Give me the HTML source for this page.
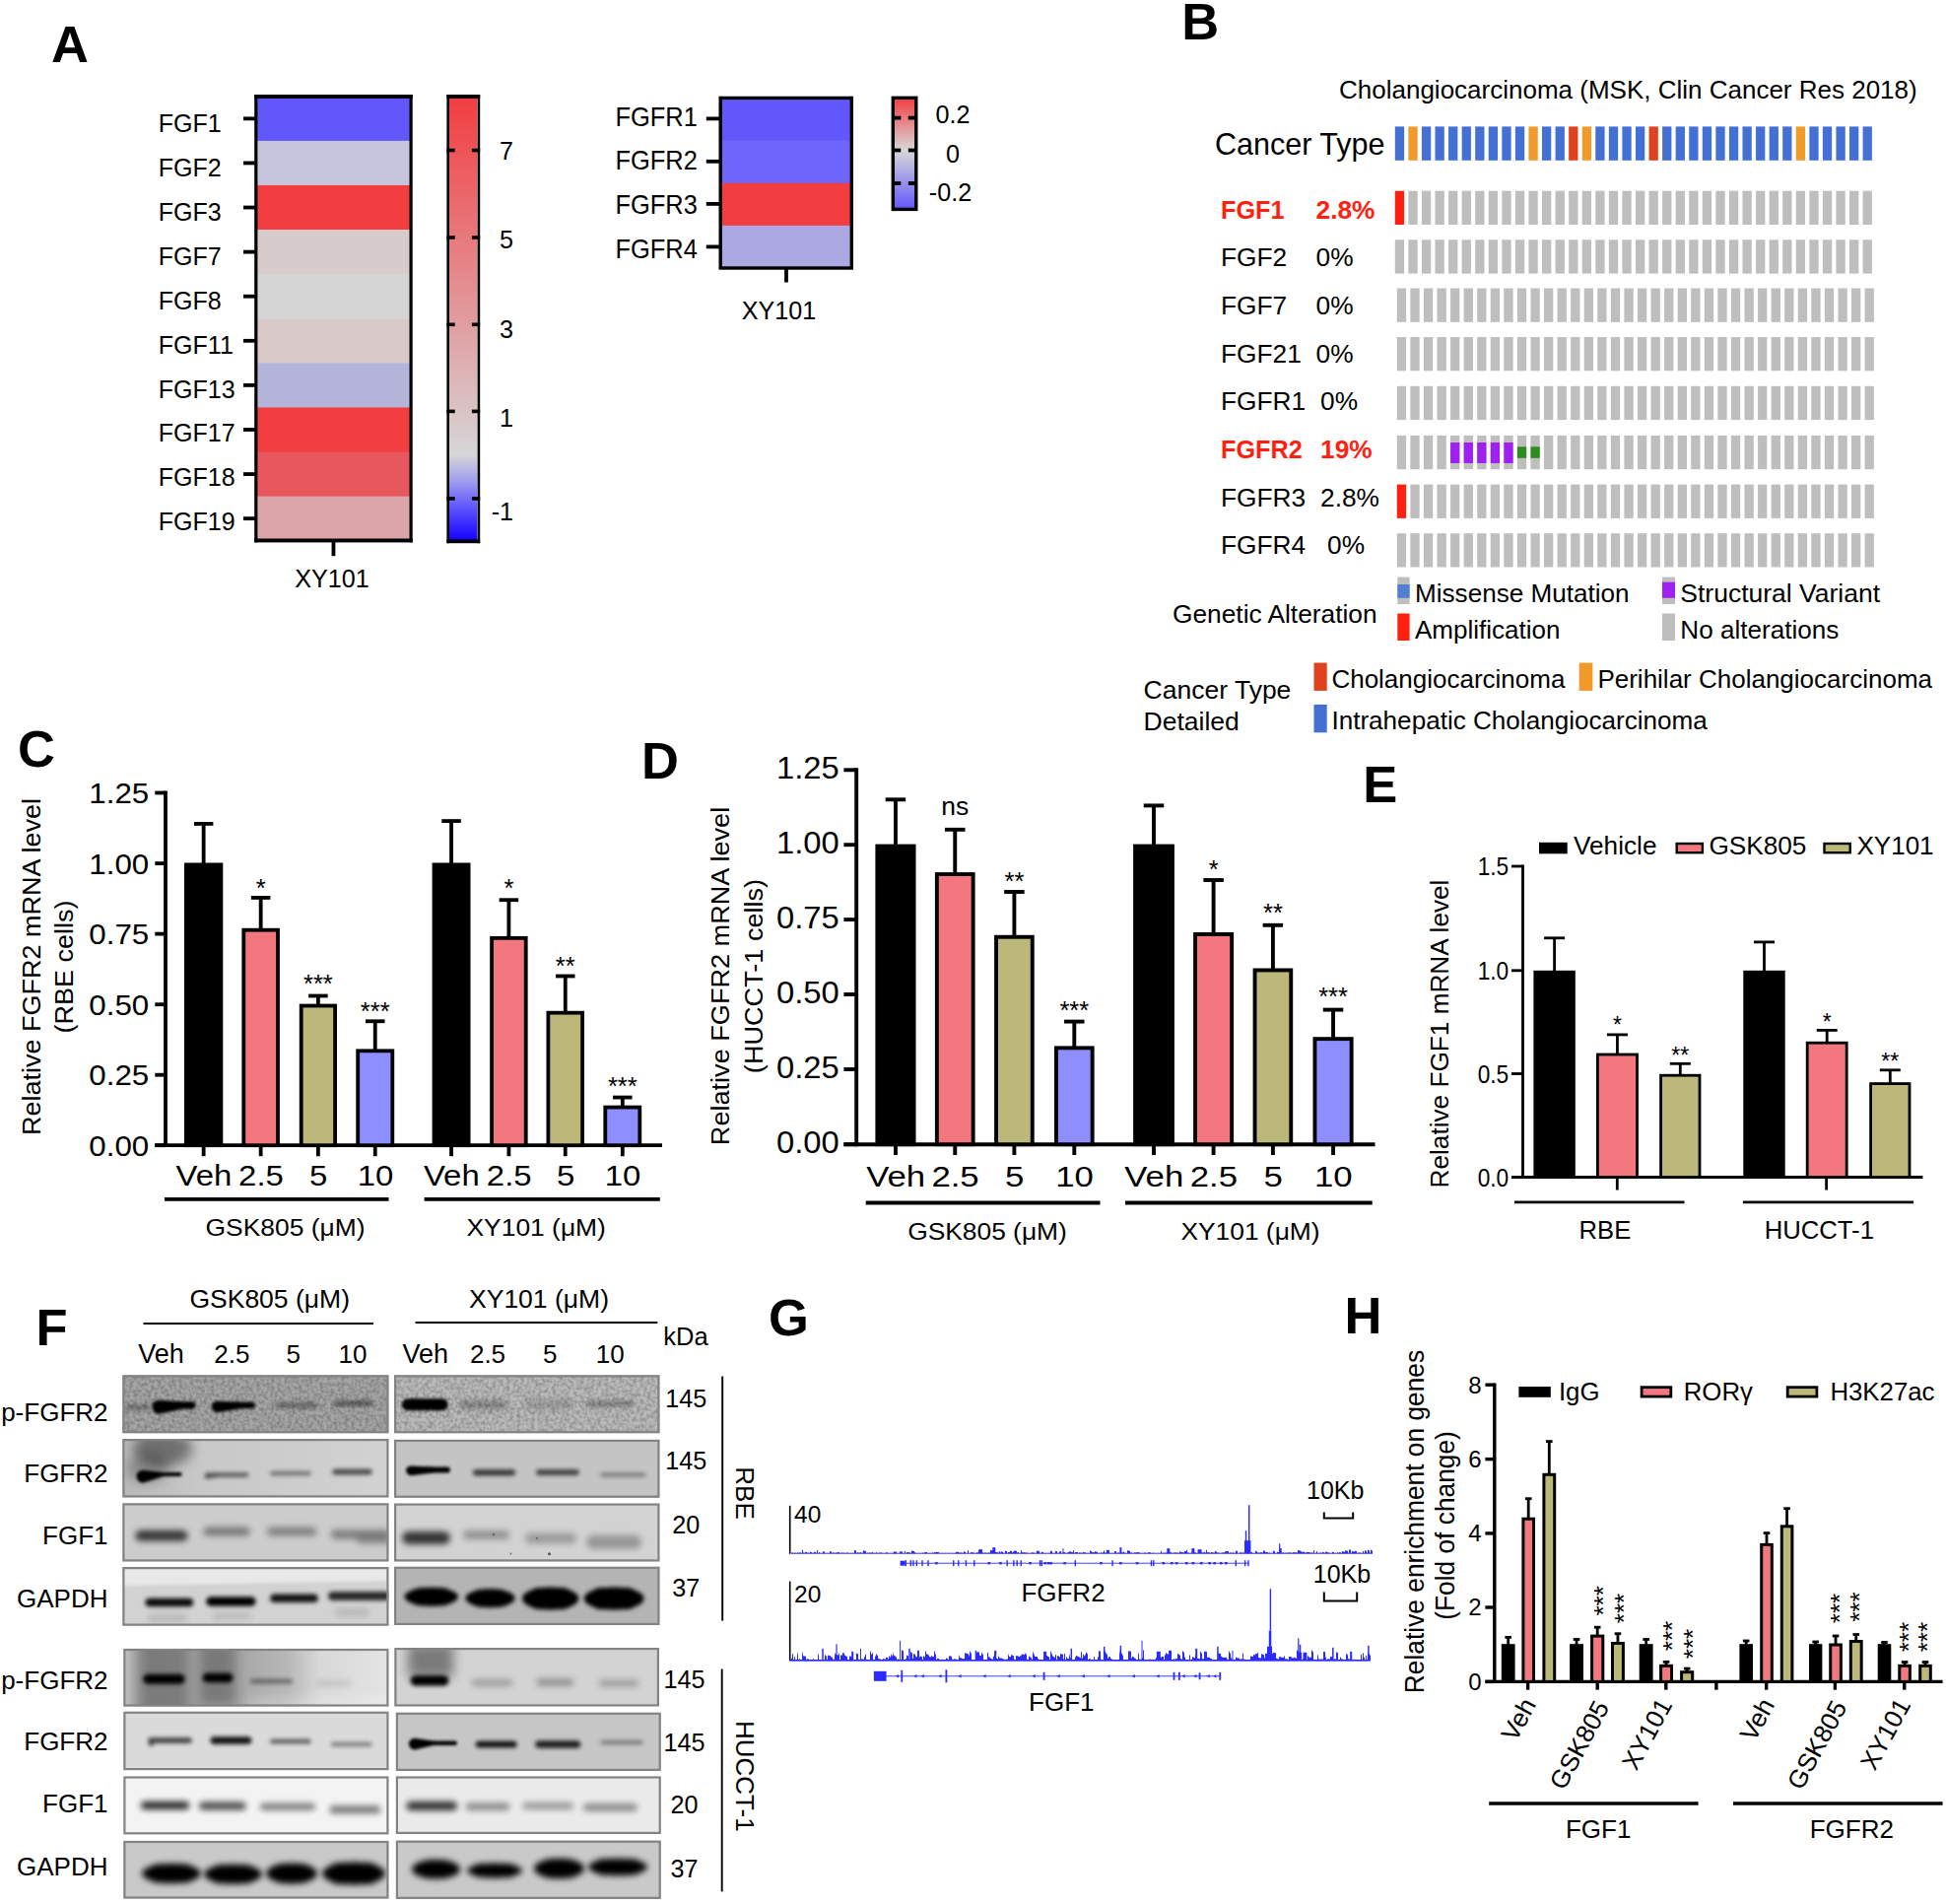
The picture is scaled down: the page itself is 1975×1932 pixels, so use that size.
<!DOCTYPE html>
<html><head><meta charset="utf-8"><title>Figure</title>
<style>html,body{margin:0;padding:0;background:#fff;}svg{display:block}text{font-family:'Liberation Sans', sans-serif}</style>
</head><body>
<svg width="1975" height="1932" viewBox="0 0 1975 1932">
<rect width="1975" height="1932" fill="#fff"/>
<g id="panelA">
<text x="52" y="63.3" font-size="52.5" font-weight="bold">A</text>
<rect x="259.9" y="97.8" width="157.1" height="45.59" fill="#6257FB"/>
<rect x="259.9" y="142.89" width="157.1" height="45.59" fill="#C5C4DC"/>
<rect x="259.9" y="187.98" width="157.1" height="45.59" fill="#F23D41"/>
<rect x="259.9" y="233.07" width="157.1" height="45.59" fill="#D8CBCC"/>
<rect x="259.9" y="278.16" width="157.1" height="45.59" fill="#D5D5D5"/>
<rect x="259.9" y="323.25" width="157.1" height="45.59" fill="#D9C9C9"/>
<rect x="259.9" y="368.34" width="157.1" height="45.59" fill="#B5B5DC"/>
<rect x="259.9" y="413.43" width="157.1" height="45.59" fill="#F23D41"/>
<rect x="259.9" y="458.52" width="157.1" height="45.59" fill="#E9575E"/>
<rect x="259.9" y="503.61" width="157.1" height="45.59" fill="#DBA5A9"/>
<rect x="258.2" y="96" width="160.5" height="3.9" fill="#000"/>
<rect x="258.2" y="546.5" width="160.5" height="3.9" fill="#000"/>
<rect x="258.2" y="96" width="3.2" height="454.4" fill="#000"/>
<rect x="415.5" y="96" width="3.2" height="454.4" fill="#000"/>
<line x1="247" y1="120.34" x2="259.9" y2="120.34" stroke="#000" stroke-width="3.8"/>
<text x="0" y="0" font-size="26.5" transform="translate(160.8 133.8) scale(0.945 1)">FGF1</text>
<line x1="247" y1="165.44" x2="259.9" y2="165.44" stroke="#000" stroke-width="3.8"/>
<text x="0" y="0" font-size="26.5" transform="translate(160.8 178.75) scale(0.945 1)">FGF2</text>
<line x1="247" y1="210.53" x2="259.9" y2="210.53" stroke="#000" stroke-width="3.8"/>
<text x="0" y="0" font-size="26.5" transform="translate(160.8 223.7) scale(0.945 1)">FGF3</text>
<line x1="247" y1="255.62" x2="259.9" y2="255.62" stroke="#000" stroke-width="3.8"/>
<text x="0" y="0" font-size="26.5" transform="translate(160.8 268.65) scale(0.945 1)">FGF7</text>
<line x1="247" y1="300.71" x2="259.9" y2="300.71" stroke="#000" stroke-width="3.8"/>
<text x="0" y="0" font-size="26.5" transform="translate(160.8 313.6) scale(0.945 1)">FGF8</text>
<line x1="247" y1="345.8" x2="259.9" y2="345.8" stroke="#000" stroke-width="3.8"/>
<text x="0" y="0" font-size="26.5" transform="translate(160.8 358.55) scale(0.945 1)">FGF11</text>
<line x1="247" y1="390.89" x2="259.9" y2="390.89" stroke="#000" stroke-width="3.8"/>
<text x="0" y="0" font-size="26.5" transform="translate(160.8 403.5) scale(0.945 1)">FGF13</text>
<line x1="247" y1="435.98" x2="259.9" y2="435.98" stroke="#000" stroke-width="3.8"/>
<text x="0" y="0" font-size="26.5" transform="translate(160.8 448.45) scale(0.945 1)">FGF17</text>
<line x1="247" y1="481.07" x2="259.9" y2="481.07" stroke="#000" stroke-width="3.8"/>
<text x="0" y="0" font-size="26.5" transform="translate(160.8 493.4) scale(0.945 1)">FGF18</text>
<line x1="247" y1="526.15" x2="259.9" y2="526.15" stroke="#000" stroke-width="3.8"/>
<text x="0" y="0" font-size="26.5" transform="translate(160.8 538.35) scale(0.945 1)">FGF19</text>
<line x1="338.45" y1="548.7" x2="338.45" y2="564.2" stroke="#000" stroke-width="3.8"/>
<text x="0" y="0" font-size="26.5" text-anchor="middle" transform="translate(336.95 596) scale(0.95 1)">XY101</text>
<defs><linearGradient id="cbA" x1="0" y1="0" x2="0" y2="1"><stop offset="0" stop-color="#F23D41"/><stop offset="0.807" stop-color="#D6D6D8"/><stop offset="0.87" stop-color="#9C98F0"/><stop offset="0.93" stop-color="#5A50FC"/><stop offset="1" stop-color="#1400FF"/></linearGradient><linearGradient id="cbA2" x1="0" y1="0" x2="0" y2="1"><stop offset="0" stop-color="#F23D41"/><stop offset="0.47" stop-color="#D8D8D8"/><stop offset="1" stop-color="#6257FB"/></linearGradient></defs>
<rect x="455.7" y="97.8" width="28.6" height="450.9" fill="url(#cbA)"/>
<rect x="453.4" y="96" width="33.8" height="3.9" fill="#000"/>
<rect x="453.4" y="547.3" width="33.8" height="3.9" fill="#000"/>
<rect x="453.4" y="96" width="2.6" height="455.2" fill="#000"/>
<rect x="484.6" y="96" width="2.6" height="455.2" fill="#000"/>
<line x1="453.4" y1="152.5" x2="461.7" y2="152.5" stroke="#000" stroke-width="3.6"/>
<line x1="478.9" y1="152.5" x2="487.2" y2="152.5" stroke="#000" stroke-width="3.6"/>
<text x="0" y="0" font-size="26.5" text-anchor="end" transform="translate(521 161.8) scale(0.95 1)">7</text>
<line x1="453.4" y1="241" x2="461.7" y2="241" stroke="#000" stroke-width="3.6"/>
<line x1="478.9" y1="241" x2="487.2" y2="241" stroke="#000" stroke-width="3.6"/>
<text x="0" y="0" font-size="26.5" text-anchor="end" transform="translate(521 252.3) scale(0.95 1)">5</text>
<line x1="453.4" y1="329.3" x2="461.7" y2="329.3" stroke="#000" stroke-width="3.6"/>
<line x1="478.9" y1="329.3" x2="487.2" y2="329.3" stroke="#000" stroke-width="3.6"/>
<text x="0" y="0" font-size="26.5" text-anchor="end" transform="translate(521 342.8) scale(0.95 1)">3</text>
<line x1="453.4" y1="417.4" x2="461.7" y2="417.4" stroke="#000" stroke-width="3.6"/>
<line x1="478.9" y1="417.4" x2="487.2" y2="417.4" stroke="#000" stroke-width="3.6"/>
<text x="0" y="0" font-size="26.5" text-anchor="end" transform="translate(521 433.4) scale(0.95 1)">1</text>
<line x1="453.4" y1="505.9" x2="461.7" y2="505.9" stroke="#000" stroke-width="3.6"/>
<line x1="478.9" y1="505.9" x2="487.2" y2="505.9" stroke="#000" stroke-width="3.6"/>
<text x="0" y="0" font-size="26.5" text-anchor="end" transform="translate(521 527.6) scale(0.95 1)">-1</text>
<rect x="731.2" y="99.4" width="133.1" height="43.65" fill="#6257FB"/>
<rect x="731.2" y="142.55" width="133.1" height="43.65" fill="#6E66FA"/>
<rect x="731.2" y="185.7" width="133.1" height="43.65" fill="#F23D41"/>
<rect x="731.2" y="228.85" width="133.1" height="43.65" fill="#ABA8E2"/>
<rect x="731.2" y="99.4" width="133.1" height="172.6" fill="none" stroke="#000" stroke-width="3.4"/>
<line x1="716.8" y1="120.4" x2="731.2" y2="120.4" stroke="#000" stroke-width="3.8"/>
<text x="0" y="0" font-size="26.8" transform="translate(624.4 127.5) scale(0.95 1)">FGFR1</text>
<line x1="716.8" y1="163.8" x2="731.2" y2="163.8" stroke="#000" stroke-width="3.8"/>
<text x="0" y="0" font-size="26.8" transform="translate(624.4 172.1) scale(0.95 1)">FGFR2</text>
<line x1="716.8" y1="206.9" x2="731.2" y2="206.9" stroke="#000" stroke-width="3.8"/>
<text x="0" y="0" font-size="26.8" transform="translate(624.4 217) scale(0.95 1)">FGFR3</text>
<line x1="716.8" y1="250.4" x2="731.2" y2="250.4" stroke="#000" stroke-width="3.8"/>
<text x="0" y="0" font-size="26.8" transform="translate(624.4 262) scale(0.95 1)">FGFR4</text>
<line x1="798" y1="272" x2="798" y2="286.5" stroke="#000" stroke-width="3.8"/>
<text x="0" y="0" font-size="26.5" text-anchor="middle" transform="translate(790.5 324) scale(0.95 1)">XY101</text>
<rect x="906.3" y="99.3" width="23.5" height="113.1" fill="url(#cbA2)" stroke="#000" stroke-width="3.4"/>
<line x1="906.3" y1="119.6" x2="914.3" y2="119.6" stroke="#000" stroke-width="3.8"/>
<line x1="921.8" y1="119.6" x2="929.8" y2="119.6" stroke="#000" stroke-width="3.8"/>
<line x1="906.3" y1="152.5" x2="914.3" y2="152.5" stroke="#000" stroke-width="3.8"/>
<line x1="921.8" y1="152.5" x2="929.8" y2="152.5" stroke="#000" stroke-width="3.8"/>
<line x1="906.3" y1="186" x2="914.3" y2="186" stroke="#000" stroke-width="3.8"/>
<line x1="921.8" y1="186" x2="929.8" y2="186" stroke="#000" stroke-width="3.8"/>
<text x="0" y="0" font-size="26.5" text-anchor="middle" transform="translate(967 125) scale(0.95 1)">0.2</text>
<text x="0" y="0" font-size="26.5" text-anchor="middle" transform="translate(967 164.6) scale(0.95 1)">0</text>
<text x="0" y="0" font-size="26.5" text-anchor="middle" transform="translate(964.5 204.3) scale(0.95 1)">-0.2</text>
</g>
<g id="panelB">
<text x="1199.3" y="40.3" font-size="52.5" font-weight="bold">B</text>
<text x="1359" y="99.8" font-size="26">Cholangiocarcinoma (MSK, Clin Cancer Res 2018)</text>
<text x="1233" y="157.4" font-size="30.5">Cancer Type</text>
<rect x="1415.8" y="128.4" width="9.3" height="34.4" fill="#4470D6"/>
<rect x="1429.37" y="128.4" width="9.3" height="34.4" fill="#F09A2C"/>
<rect x="1442.93" y="128.4" width="9.3" height="34.4" fill="#4470D6"/>
<rect x="1456.49" y="128.4" width="9.3" height="34.4" fill="#4470D6"/>
<rect x="1470.06" y="128.4" width="9.3" height="34.4" fill="#4470D6"/>
<rect x="1483.62" y="128.4" width="9.3" height="34.4" fill="#4470D6"/>
<rect x="1497.19" y="128.4" width="9.3" height="34.4" fill="#4470D6"/>
<rect x="1510.75" y="128.4" width="9.3" height="34.4" fill="#4470D6"/>
<rect x="1524.32" y="128.4" width="9.3" height="34.4" fill="#4470D6"/>
<rect x="1537.88" y="128.4" width="9.3" height="34.4" fill="#4470D6"/>
<rect x="1551.45" y="128.4" width="9.3" height="34.4" fill="#F09A2C"/>
<rect x="1565.01" y="128.4" width="9.3" height="34.4" fill="#4470D6"/>
<rect x="1578.58" y="128.4" width="9.3" height="34.4" fill="#4470D6"/>
<rect x="1592.14" y="128.4" width="9.3" height="34.4" fill="#E0421E"/>
<rect x="1605.71" y="128.4" width="9.3" height="34.4" fill="#F09A2C"/>
<rect x="1619.27" y="128.4" width="9.3" height="34.4" fill="#4470D6"/>
<rect x="1632.84" y="128.4" width="9.3" height="34.4" fill="#4470D6"/>
<rect x="1646.4" y="128.4" width="9.3" height="34.4" fill="#4470D6"/>
<rect x="1659.97" y="128.4" width="9.3" height="34.4" fill="#4470D6"/>
<rect x="1673.53" y="128.4" width="9.3" height="34.4" fill="#E0421E"/>
<rect x="1687.1" y="128.4" width="9.3" height="34.4" fill="#4470D6"/>
<rect x="1700.66" y="128.4" width="9.3" height="34.4" fill="#4470D6"/>
<rect x="1714.23" y="128.4" width="9.3" height="34.4" fill="#4470D6"/>
<rect x="1727.8" y="128.4" width="9.3" height="34.4" fill="#4470D6"/>
<rect x="1741.36" y="128.4" width="9.3" height="34.4" fill="#4470D6"/>
<rect x="1754.92" y="128.4" width="9.3" height="34.4" fill="#4470D6"/>
<rect x="1768.49" y="128.4" width="9.3" height="34.4" fill="#4470D6"/>
<rect x="1782.05" y="128.4" width="9.3" height="34.4" fill="#4470D6"/>
<rect x="1795.62" y="128.4" width="9.3" height="34.4" fill="#4470D6"/>
<rect x="1809.18" y="128.4" width="9.3" height="34.4" fill="#4470D6"/>
<rect x="1822.75" y="128.4" width="9.3" height="34.4" fill="#F09A2C"/>
<rect x="1836.32" y="128.4" width="9.3" height="34.4" fill="#4470D6"/>
<rect x="1849.88" y="128.4" width="9.3" height="34.4" fill="#4470D6"/>
<rect x="1863.44" y="128.4" width="9.3" height="34.4" fill="#4470D6"/>
<rect x="1877.01" y="128.4" width="9.3" height="34.4" fill="#4470D6"/>
<rect x="1890.57" y="128.4" width="9.3" height="34.4" fill="#4470D6"/>
<rect x="1415.8" y="193.7" width="9.3" height="34.3" fill="#FF2010"/>
<rect x="1429.37" y="193.7" width="9.3" height="34.3" fill="#BEBEBE"/>
<rect x="1442.93" y="193.7" width="9.3" height="34.3" fill="#BEBEBE"/>
<rect x="1456.49" y="193.7" width="9.3" height="34.3" fill="#BEBEBE"/>
<rect x="1470.06" y="193.7" width="9.3" height="34.3" fill="#BEBEBE"/>
<rect x="1483.62" y="193.7" width="9.3" height="34.3" fill="#BEBEBE"/>
<rect x="1497.19" y="193.7" width="9.3" height="34.3" fill="#BEBEBE"/>
<rect x="1510.75" y="193.7" width="9.3" height="34.3" fill="#BEBEBE"/>
<rect x="1524.32" y="193.7" width="9.3" height="34.3" fill="#BEBEBE"/>
<rect x="1537.88" y="193.7" width="9.3" height="34.3" fill="#BEBEBE"/>
<rect x="1551.45" y="193.7" width="9.3" height="34.3" fill="#BEBEBE"/>
<rect x="1565.01" y="193.7" width="9.3" height="34.3" fill="#BEBEBE"/>
<rect x="1578.58" y="193.7" width="9.3" height="34.3" fill="#BEBEBE"/>
<rect x="1592.14" y="193.7" width="9.3" height="34.3" fill="#BEBEBE"/>
<rect x="1605.71" y="193.7" width="9.3" height="34.3" fill="#BEBEBE"/>
<rect x="1619.27" y="193.7" width="9.3" height="34.3" fill="#BEBEBE"/>
<rect x="1632.84" y="193.7" width="9.3" height="34.3" fill="#BEBEBE"/>
<rect x="1646.4" y="193.7" width="9.3" height="34.3" fill="#BEBEBE"/>
<rect x="1659.97" y="193.7" width="9.3" height="34.3" fill="#BEBEBE"/>
<rect x="1673.53" y="193.7" width="9.3" height="34.3" fill="#BEBEBE"/>
<rect x="1687.1" y="193.7" width="9.3" height="34.3" fill="#BEBEBE"/>
<rect x="1700.66" y="193.7" width="9.3" height="34.3" fill="#BEBEBE"/>
<rect x="1714.23" y="193.7" width="9.3" height="34.3" fill="#BEBEBE"/>
<rect x="1727.8" y="193.7" width="9.3" height="34.3" fill="#BEBEBE"/>
<rect x="1741.36" y="193.7" width="9.3" height="34.3" fill="#BEBEBE"/>
<rect x="1754.92" y="193.7" width="9.3" height="34.3" fill="#BEBEBE"/>
<rect x="1768.49" y="193.7" width="9.3" height="34.3" fill="#BEBEBE"/>
<rect x="1782.05" y="193.7" width="9.3" height="34.3" fill="#BEBEBE"/>
<rect x="1795.62" y="193.7" width="9.3" height="34.3" fill="#BEBEBE"/>
<rect x="1809.18" y="193.7" width="9.3" height="34.3" fill="#BEBEBE"/>
<rect x="1822.75" y="193.7" width="9.3" height="34.3" fill="#BEBEBE"/>
<rect x="1836.32" y="193.7" width="9.3" height="34.3" fill="#BEBEBE"/>
<rect x="1849.88" y="193.7" width="9.3" height="34.3" fill="#BEBEBE"/>
<rect x="1863.44" y="193.7" width="9.3" height="34.3" fill="#BEBEBE"/>
<rect x="1877.01" y="193.7" width="9.3" height="34.3" fill="#BEBEBE"/>
<rect x="1890.57" y="193.7" width="9.3" height="34.3" fill="#BEBEBE"/>
<text x="0" y="0" font-size="26.3" font-weight="bold" fill="#FF2010" transform="translate(1239 221.6) scale(0.96 1)">FGF1</text>
<text x="1335.5" y="221.6" font-size="26.3" font-weight="bold" fill="#FF2010">2.8%</text>
<rect x="1415.8" y="243.3" width="9.3" height="34.3" fill="#BEBEBE"/>
<rect x="1429.37" y="243.3" width="9.3" height="34.3" fill="#BEBEBE"/>
<rect x="1442.93" y="243.3" width="9.3" height="34.3" fill="#BEBEBE"/>
<rect x="1456.49" y="243.3" width="9.3" height="34.3" fill="#BEBEBE"/>
<rect x="1470.06" y="243.3" width="9.3" height="34.3" fill="#BEBEBE"/>
<rect x="1483.62" y="243.3" width="9.3" height="34.3" fill="#BEBEBE"/>
<rect x="1497.19" y="243.3" width="9.3" height="34.3" fill="#BEBEBE"/>
<rect x="1510.75" y="243.3" width="9.3" height="34.3" fill="#BEBEBE"/>
<rect x="1524.32" y="243.3" width="9.3" height="34.3" fill="#BEBEBE"/>
<rect x="1537.88" y="243.3" width="9.3" height="34.3" fill="#BEBEBE"/>
<rect x="1551.45" y="243.3" width="9.3" height="34.3" fill="#BEBEBE"/>
<rect x="1565.01" y="243.3" width="9.3" height="34.3" fill="#BEBEBE"/>
<rect x="1578.58" y="243.3" width="9.3" height="34.3" fill="#BEBEBE"/>
<rect x="1592.14" y="243.3" width="9.3" height="34.3" fill="#BEBEBE"/>
<rect x="1605.71" y="243.3" width="9.3" height="34.3" fill="#BEBEBE"/>
<rect x="1619.27" y="243.3" width="9.3" height="34.3" fill="#BEBEBE"/>
<rect x="1632.84" y="243.3" width="9.3" height="34.3" fill="#BEBEBE"/>
<rect x="1646.4" y="243.3" width="9.3" height="34.3" fill="#BEBEBE"/>
<rect x="1659.97" y="243.3" width="9.3" height="34.3" fill="#BEBEBE"/>
<rect x="1673.53" y="243.3" width="9.3" height="34.3" fill="#BEBEBE"/>
<rect x="1687.1" y="243.3" width="9.3" height="34.3" fill="#BEBEBE"/>
<rect x="1700.66" y="243.3" width="9.3" height="34.3" fill="#BEBEBE"/>
<rect x="1714.23" y="243.3" width="9.3" height="34.3" fill="#BEBEBE"/>
<rect x="1727.8" y="243.3" width="9.3" height="34.3" fill="#BEBEBE"/>
<rect x="1741.36" y="243.3" width="9.3" height="34.3" fill="#BEBEBE"/>
<rect x="1754.92" y="243.3" width="9.3" height="34.3" fill="#BEBEBE"/>
<rect x="1768.49" y="243.3" width="9.3" height="34.3" fill="#BEBEBE"/>
<rect x="1782.05" y="243.3" width="9.3" height="34.3" fill="#BEBEBE"/>
<rect x="1795.62" y="243.3" width="9.3" height="34.3" fill="#BEBEBE"/>
<rect x="1809.18" y="243.3" width="9.3" height="34.3" fill="#BEBEBE"/>
<rect x="1822.75" y="243.3" width="9.3" height="34.3" fill="#BEBEBE"/>
<rect x="1836.32" y="243.3" width="9.3" height="34.3" fill="#BEBEBE"/>
<rect x="1849.88" y="243.3" width="9.3" height="34.3" fill="#BEBEBE"/>
<rect x="1863.44" y="243.3" width="9.3" height="34.3" fill="#BEBEBE"/>
<rect x="1877.01" y="243.3" width="9.3" height="34.3" fill="#BEBEBE"/>
<rect x="1890.57" y="243.3" width="9.3" height="34.3" fill="#BEBEBE"/>
<text x="1239" y="270.25" font-size="26.3">FGF2</text>
<text x="1335.5" y="270.25" font-size="26.3">0%</text>
<rect x="1417.8" y="292.5" width="9.3" height="34.3" fill="#BEBEBE"/>
<rect x="1431.37" y="292.5" width="9.3" height="34.3" fill="#BEBEBE"/>
<rect x="1444.93" y="292.5" width="9.3" height="34.3" fill="#BEBEBE"/>
<rect x="1458.49" y="292.5" width="9.3" height="34.3" fill="#BEBEBE"/>
<rect x="1472.06" y="292.5" width="9.3" height="34.3" fill="#BEBEBE"/>
<rect x="1485.62" y="292.5" width="9.3" height="34.3" fill="#BEBEBE"/>
<rect x="1499.19" y="292.5" width="9.3" height="34.3" fill="#BEBEBE"/>
<rect x="1512.75" y="292.5" width="9.3" height="34.3" fill="#BEBEBE"/>
<rect x="1526.32" y="292.5" width="9.3" height="34.3" fill="#BEBEBE"/>
<rect x="1539.88" y="292.5" width="9.3" height="34.3" fill="#BEBEBE"/>
<rect x="1553.45" y="292.5" width="9.3" height="34.3" fill="#BEBEBE"/>
<rect x="1567.01" y="292.5" width="9.3" height="34.3" fill="#BEBEBE"/>
<rect x="1580.58" y="292.5" width="9.3" height="34.3" fill="#BEBEBE"/>
<rect x="1594.14" y="292.5" width="9.3" height="34.3" fill="#BEBEBE"/>
<rect x="1607.71" y="292.5" width="9.3" height="34.3" fill="#BEBEBE"/>
<rect x="1621.27" y="292.5" width="9.3" height="34.3" fill="#BEBEBE"/>
<rect x="1634.84" y="292.5" width="9.3" height="34.3" fill="#BEBEBE"/>
<rect x="1648.4" y="292.5" width="9.3" height="34.3" fill="#BEBEBE"/>
<rect x="1661.97" y="292.5" width="9.3" height="34.3" fill="#BEBEBE"/>
<rect x="1675.53" y="292.5" width="9.3" height="34.3" fill="#BEBEBE"/>
<rect x="1689.1" y="292.5" width="9.3" height="34.3" fill="#BEBEBE"/>
<rect x="1702.66" y="292.5" width="9.3" height="34.3" fill="#BEBEBE"/>
<rect x="1716.23" y="292.5" width="9.3" height="34.3" fill="#BEBEBE"/>
<rect x="1729.8" y="292.5" width="9.3" height="34.3" fill="#BEBEBE"/>
<rect x="1743.36" y="292.5" width="9.3" height="34.3" fill="#BEBEBE"/>
<rect x="1756.92" y="292.5" width="9.3" height="34.3" fill="#BEBEBE"/>
<rect x="1770.49" y="292.5" width="9.3" height="34.3" fill="#BEBEBE"/>
<rect x="1784.05" y="292.5" width="9.3" height="34.3" fill="#BEBEBE"/>
<rect x="1797.62" y="292.5" width="9.3" height="34.3" fill="#BEBEBE"/>
<rect x="1811.18" y="292.5" width="9.3" height="34.3" fill="#BEBEBE"/>
<rect x="1824.75" y="292.5" width="9.3" height="34.3" fill="#BEBEBE"/>
<rect x="1838.32" y="292.5" width="9.3" height="34.3" fill="#BEBEBE"/>
<rect x="1851.88" y="292.5" width="9.3" height="34.3" fill="#BEBEBE"/>
<rect x="1865.44" y="292.5" width="9.3" height="34.3" fill="#BEBEBE"/>
<rect x="1879.01" y="292.5" width="9.3" height="34.3" fill="#BEBEBE"/>
<rect x="1892.57" y="292.5" width="9.3" height="34.3" fill="#BEBEBE"/>
<text x="1239" y="318.9" font-size="26.3">FGF7</text>
<text x="1335.5" y="318.9" font-size="26.3">0%</text>
<rect x="1417.8" y="342" width="9.3" height="34.3" fill="#BEBEBE"/>
<rect x="1431.37" y="342" width="9.3" height="34.3" fill="#BEBEBE"/>
<rect x="1444.93" y="342" width="9.3" height="34.3" fill="#BEBEBE"/>
<rect x="1458.49" y="342" width="9.3" height="34.3" fill="#BEBEBE"/>
<rect x="1472.06" y="342" width="9.3" height="34.3" fill="#BEBEBE"/>
<rect x="1485.62" y="342" width="9.3" height="34.3" fill="#BEBEBE"/>
<rect x="1499.19" y="342" width="9.3" height="34.3" fill="#BEBEBE"/>
<rect x="1512.75" y="342" width="9.3" height="34.3" fill="#BEBEBE"/>
<rect x="1526.32" y="342" width="9.3" height="34.3" fill="#BEBEBE"/>
<rect x="1539.88" y="342" width="9.3" height="34.3" fill="#BEBEBE"/>
<rect x="1553.45" y="342" width="9.3" height="34.3" fill="#BEBEBE"/>
<rect x="1567.01" y="342" width="9.3" height="34.3" fill="#BEBEBE"/>
<rect x="1580.58" y="342" width="9.3" height="34.3" fill="#BEBEBE"/>
<rect x="1594.14" y="342" width="9.3" height="34.3" fill="#BEBEBE"/>
<rect x="1607.71" y="342" width="9.3" height="34.3" fill="#BEBEBE"/>
<rect x="1621.27" y="342" width="9.3" height="34.3" fill="#BEBEBE"/>
<rect x="1634.84" y="342" width="9.3" height="34.3" fill="#BEBEBE"/>
<rect x="1648.4" y="342" width="9.3" height="34.3" fill="#BEBEBE"/>
<rect x="1661.97" y="342" width="9.3" height="34.3" fill="#BEBEBE"/>
<rect x="1675.53" y="342" width="9.3" height="34.3" fill="#BEBEBE"/>
<rect x="1689.1" y="342" width="9.3" height="34.3" fill="#BEBEBE"/>
<rect x="1702.66" y="342" width="9.3" height="34.3" fill="#BEBEBE"/>
<rect x="1716.23" y="342" width="9.3" height="34.3" fill="#BEBEBE"/>
<rect x="1729.8" y="342" width="9.3" height="34.3" fill="#BEBEBE"/>
<rect x="1743.36" y="342" width="9.3" height="34.3" fill="#BEBEBE"/>
<rect x="1756.92" y="342" width="9.3" height="34.3" fill="#BEBEBE"/>
<rect x="1770.49" y="342" width="9.3" height="34.3" fill="#BEBEBE"/>
<rect x="1784.05" y="342" width="9.3" height="34.3" fill="#BEBEBE"/>
<rect x="1797.62" y="342" width="9.3" height="34.3" fill="#BEBEBE"/>
<rect x="1811.18" y="342" width="9.3" height="34.3" fill="#BEBEBE"/>
<rect x="1824.75" y="342" width="9.3" height="34.3" fill="#BEBEBE"/>
<rect x="1838.32" y="342" width="9.3" height="34.3" fill="#BEBEBE"/>
<rect x="1851.88" y="342" width="9.3" height="34.3" fill="#BEBEBE"/>
<rect x="1865.44" y="342" width="9.3" height="34.3" fill="#BEBEBE"/>
<rect x="1879.01" y="342" width="9.3" height="34.3" fill="#BEBEBE"/>
<rect x="1892.57" y="342" width="9.3" height="34.3" fill="#BEBEBE"/>
<text x="1239" y="367.55" font-size="26.3">FGF21</text>
<text x="1335.5" y="367.55" font-size="26.3">0%</text>
<rect x="1417.8" y="391.8" width="9.3" height="34.3" fill="#BEBEBE"/>
<rect x="1431.37" y="391.8" width="9.3" height="34.3" fill="#BEBEBE"/>
<rect x="1444.93" y="391.8" width="9.3" height="34.3" fill="#BEBEBE"/>
<rect x="1458.49" y="391.8" width="9.3" height="34.3" fill="#BEBEBE"/>
<rect x="1472.06" y="391.8" width="9.3" height="34.3" fill="#BEBEBE"/>
<rect x="1485.62" y="391.8" width="9.3" height="34.3" fill="#BEBEBE"/>
<rect x="1499.19" y="391.8" width="9.3" height="34.3" fill="#BEBEBE"/>
<rect x="1512.75" y="391.8" width="9.3" height="34.3" fill="#BEBEBE"/>
<rect x="1526.32" y="391.8" width="9.3" height="34.3" fill="#BEBEBE"/>
<rect x="1539.88" y="391.8" width="9.3" height="34.3" fill="#BEBEBE"/>
<rect x="1553.45" y="391.8" width="9.3" height="34.3" fill="#BEBEBE"/>
<rect x="1567.01" y="391.8" width="9.3" height="34.3" fill="#BEBEBE"/>
<rect x="1580.58" y="391.8" width="9.3" height="34.3" fill="#BEBEBE"/>
<rect x="1594.14" y="391.8" width="9.3" height="34.3" fill="#BEBEBE"/>
<rect x="1607.71" y="391.8" width="9.3" height="34.3" fill="#BEBEBE"/>
<rect x="1621.27" y="391.8" width="9.3" height="34.3" fill="#BEBEBE"/>
<rect x="1634.84" y="391.8" width="9.3" height="34.3" fill="#BEBEBE"/>
<rect x="1648.4" y="391.8" width="9.3" height="34.3" fill="#BEBEBE"/>
<rect x="1661.97" y="391.8" width="9.3" height="34.3" fill="#BEBEBE"/>
<rect x="1675.53" y="391.8" width="9.3" height="34.3" fill="#BEBEBE"/>
<rect x="1689.1" y="391.8" width="9.3" height="34.3" fill="#BEBEBE"/>
<rect x="1702.66" y="391.8" width="9.3" height="34.3" fill="#BEBEBE"/>
<rect x="1716.23" y="391.8" width="9.3" height="34.3" fill="#BEBEBE"/>
<rect x="1729.8" y="391.8" width="9.3" height="34.3" fill="#BEBEBE"/>
<rect x="1743.36" y="391.8" width="9.3" height="34.3" fill="#BEBEBE"/>
<rect x="1756.92" y="391.8" width="9.3" height="34.3" fill="#BEBEBE"/>
<rect x="1770.49" y="391.8" width="9.3" height="34.3" fill="#BEBEBE"/>
<rect x="1784.05" y="391.8" width="9.3" height="34.3" fill="#BEBEBE"/>
<rect x="1797.62" y="391.8" width="9.3" height="34.3" fill="#BEBEBE"/>
<rect x="1811.18" y="391.8" width="9.3" height="34.3" fill="#BEBEBE"/>
<rect x="1824.75" y="391.8" width="9.3" height="34.3" fill="#BEBEBE"/>
<rect x="1838.32" y="391.8" width="9.3" height="34.3" fill="#BEBEBE"/>
<rect x="1851.88" y="391.8" width="9.3" height="34.3" fill="#BEBEBE"/>
<rect x="1865.44" y="391.8" width="9.3" height="34.3" fill="#BEBEBE"/>
<rect x="1879.01" y="391.8" width="9.3" height="34.3" fill="#BEBEBE"/>
<rect x="1892.57" y="391.8" width="9.3" height="34.3" fill="#BEBEBE"/>
<text x="1239" y="416.2" font-size="26.3">FGFR1</text>
<text x="1340" y="416.2" font-size="26.3">0%</text>
<rect x="1417.8" y="441.9" width="9.3" height="34.3" fill="#BEBEBE"/>
<rect x="1431.37" y="441.9" width="9.3" height="34.3" fill="#BEBEBE"/>
<rect x="1444.93" y="441.9" width="9.3" height="34.3" fill="#BEBEBE"/>
<rect x="1458.49" y="441.9" width="9.3" height="34.3" fill="#BEBEBE"/>
<rect x="1472.06" y="441.9" width="9.3" height="34.3" fill="#BEBEBE"/>
<rect x="1485.62" y="441.9" width="9.3" height="34.3" fill="#BEBEBE"/>
<rect x="1499.19" y="441.9" width="9.3" height="34.3" fill="#BEBEBE"/>
<rect x="1512.75" y="441.9" width="9.3" height="34.3" fill="#BEBEBE"/>
<rect x="1526.32" y="441.9" width="9.3" height="34.3" fill="#BEBEBE"/>
<rect x="1539.88" y="441.9" width="9.3" height="34.3" fill="#BEBEBE"/>
<rect x="1553.45" y="441.9" width="9.3" height="34.3" fill="#BEBEBE"/>
<rect x="1567.01" y="441.9" width="9.3" height="34.3" fill="#BEBEBE"/>
<rect x="1580.58" y="441.9" width="9.3" height="34.3" fill="#BEBEBE"/>
<rect x="1594.14" y="441.9" width="9.3" height="34.3" fill="#BEBEBE"/>
<rect x="1607.71" y="441.9" width="9.3" height="34.3" fill="#BEBEBE"/>
<rect x="1621.27" y="441.9" width="9.3" height="34.3" fill="#BEBEBE"/>
<rect x="1634.84" y="441.9" width="9.3" height="34.3" fill="#BEBEBE"/>
<rect x="1648.4" y="441.9" width="9.3" height="34.3" fill="#BEBEBE"/>
<rect x="1661.97" y="441.9" width="9.3" height="34.3" fill="#BEBEBE"/>
<rect x="1675.53" y="441.9" width="9.3" height="34.3" fill="#BEBEBE"/>
<rect x="1689.1" y="441.9" width="9.3" height="34.3" fill="#BEBEBE"/>
<rect x="1702.66" y="441.9" width="9.3" height="34.3" fill="#BEBEBE"/>
<rect x="1716.23" y="441.9" width="9.3" height="34.3" fill="#BEBEBE"/>
<rect x="1729.8" y="441.9" width="9.3" height="34.3" fill="#BEBEBE"/>
<rect x="1743.36" y="441.9" width="9.3" height="34.3" fill="#BEBEBE"/>
<rect x="1756.92" y="441.9" width="9.3" height="34.3" fill="#BEBEBE"/>
<rect x="1770.49" y="441.9" width="9.3" height="34.3" fill="#BEBEBE"/>
<rect x="1784.05" y="441.9" width="9.3" height="34.3" fill="#BEBEBE"/>
<rect x="1797.62" y="441.9" width="9.3" height="34.3" fill="#BEBEBE"/>
<rect x="1811.18" y="441.9" width="9.3" height="34.3" fill="#BEBEBE"/>
<rect x="1824.75" y="441.9" width="9.3" height="34.3" fill="#BEBEBE"/>
<rect x="1838.32" y="441.9" width="9.3" height="34.3" fill="#BEBEBE"/>
<rect x="1851.88" y="441.9" width="9.3" height="34.3" fill="#BEBEBE"/>
<rect x="1865.44" y="441.9" width="9.3" height="34.3" fill="#BEBEBE"/>
<rect x="1879.01" y="441.9" width="9.3" height="34.3" fill="#BEBEBE"/>
<rect x="1892.57" y="441.9" width="9.3" height="34.3" fill="#BEBEBE"/>
<rect x="1472.06" y="449" width="9.3" height="21" fill="#A020F0"/>
<rect x="1485.62" y="449" width="9.3" height="21" fill="#A020F0"/>
<rect x="1499.19" y="449" width="9.3" height="21" fill="#A020F0"/>
<rect x="1512.75" y="449" width="9.3" height="21" fill="#A020F0"/>
<rect x="1526.32" y="449" width="9.3" height="21" fill="#A020F0"/>
<rect x="1539.88" y="453.3" width="9.3" height="11.5" fill="#2E8B1E"/>
<rect x="1553.45" y="453.3" width="9.3" height="11.5" fill="#2E8B1E"/>
<text x="0" y="0" font-size="26.3" font-weight="bold" fill="#FF2010" transform="translate(1239 464.85) scale(0.96 1)">FGFR2</text>
<text x="1340" y="464.85" font-size="26.3" font-weight="bold" fill="#FF2010">19%</text>
<rect x="1417.8" y="491.6" width="9.3" height="34.3" fill="#FF2010"/>
<rect x="1431.37" y="491.6" width="9.3" height="34.3" fill="#BEBEBE"/>
<rect x="1444.93" y="491.6" width="9.3" height="34.3" fill="#BEBEBE"/>
<rect x="1458.49" y="491.6" width="9.3" height="34.3" fill="#BEBEBE"/>
<rect x="1472.06" y="491.6" width="9.3" height="34.3" fill="#BEBEBE"/>
<rect x="1485.62" y="491.6" width="9.3" height="34.3" fill="#BEBEBE"/>
<rect x="1499.19" y="491.6" width="9.3" height="34.3" fill="#BEBEBE"/>
<rect x="1512.75" y="491.6" width="9.3" height="34.3" fill="#BEBEBE"/>
<rect x="1526.32" y="491.6" width="9.3" height="34.3" fill="#BEBEBE"/>
<rect x="1539.88" y="491.6" width="9.3" height="34.3" fill="#BEBEBE"/>
<rect x="1553.45" y="491.6" width="9.3" height="34.3" fill="#BEBEBE"/>
<rect x="1567.01" y="491.6" width="9.3" height="34.3" fill="#BEBEBE"/>
<rect x="1580.58" y="491.6" width="9.3" height="34.3" fill="#BEBEBE"/>
<rect x="1594.14" y="491.6" width="9.3" height="34.3" fill="#BEBEBE"/>
<rect x="1607.71" y="491.6" width="9.3" height="34.3" fill="#BEBEBE"/>
<rect x="1621.27" y="491.6" width="9.3" height="34.3" fill="#BEBEBE"/>
<rect x="1634.84" y="491.6" width="9.3" height="34.3" fill="#BEBEBE"/>
<rect x="1648.4" y="491.6" width="9.3" height="34.3" fill="#BEBEBE"/>
<rect x="1661.97" y="491.6" width="9.3" height="34.3" fill="#BEBEBE"/>
<rect x="1675.53" y="491.6" width="9.3" height="34.3" fill="#BEBEBE"/>
<rect x="1689.1" y="491.6" width="9.3" height="34.3" fill="#BEBEBE"/>
<rect x="1702.66" y="491.6" width="9.3" height="34.3" fill="#BEBEBE"/>
<rect x="1716.23" y="491.6" width="9.3" height="34.3" fill="#BEBEBE"/>
<rect x="1729.8" y="491.6" width="9.3" height="34.3" fill="#BEBEBE"/>
<rect x="1743.36" y="491.6" width="9.3" height="34.3" fill="#BEBEBE"/>
<rect x="1756.92" y="491.6" width="9.3" height="34.3" fill="#BEBEBE"/>
<rect x="1770.49" y="491.6" width="9.3" height="34.3" fill="#BEBEBE"/>
<rect x="1784.05" y="491.6" width="9.3" height="34.3" fill="#BEBEBE"/>
<rect x="1797.62" y="491.6" width="9.3" height="34.3" fill="#BEBEBE"/>
<rect x="1811.18" y="491.6" width="9.3" height="34.3" fill="#BEBEBE"/>
<rect x="1824.75" y="491.6" width="9.3" height="34.3" fill="#BEBEBE"/>
<rect x="1838.32" y="491.6" width="9.3" height="34.3" fill="#BEBEBE"/>
<rect x="1851.88" y="491.6" width="9.3" height="34.3" fill="#BEBEBE"/>
<rect x="1865.44" y="491.6" width="9.3" height="34.3" fill="#BEBEBE"/>
<rect x="1879.01" y="491.6" width="9.3" height="34.3" fill="#BEBEBE"/>
<rect x="1892.57" y="491.6" width="9.3" height="34.3" fill="#BEBEBE"/>
<text x="1239" y="513.5" font-size="26.3">FGFR3</text>
<text x="1340" y="513.5" font-size="26.3">2.8%</text>
<rect x="1417.8" y="541.2" width="9.3" height="34.3" fill="#BEBEBE"/>
<rect x="1431.37" y="541.2" width="9.3" height="34.3" fill="#BEBEBE"/>
<rect x="1444.93" y="541.2" width="9.3" height="34.3" fill="#BEBEBE"/>
<rect x="1458.49" y="541.2" width="9.3" height="34.3" fill="#BEBEBE"/>
<rect x="1472.06" y="541.2" width="9.3" height="34.3" fill="#BEBEBE"/>
<rect x="1485.62" y="541.2" width="9.3" height="34.3" fill="#BEBEBE"/>
<rect x="1499.19" y="541.2" width="9.3" height="34.3" fill="#BEBEBE"/>
<rect x="1512.75" y="541.2" width="9.3" height="34.3" fill="#BEBEBE"/>
<rect x="1526.32" y="541.2" width="9.3" height="34.3" fill="#BEBEBE"/>
<rect x="1539.88" y="541.2" width="9.3" height="34.3" fill="#BEBEBE"/>
<rect x="1553.45" y="541.2" width="9.3" height="34.3" fill="#BEBEBE"/>
<rect x="1567.01" y="541.2" width="9.3" height="34.3" fill="#BEBEBE"/>
<rect x="1580.58" y="541.2" width="9.3" height="34.3" fill="#BEBEBE"/>
<rect x="1594.14" y="541.2" width="9.3" height="34.3" fill="#BEBEBE"/>
<rect x="1607.71" y="541.2" width="9.3" height="34.3" fill="#BEBEBE"/>
<rect x="1621.27" y="541.2" width="9.3" height="34.3" fill="#BEBEBE"/>
<rect x="1634.84" y="541.2" width="9.3" height="34.3" fill="#BEBEBE"/>
<rect x="1648.4" y="541.2" width="9.3" height="34.3" fill="#BEBEBE"/>
<rect x="1661.97" y="541.2" width="9.3" height="34.3" fill="#BEBEBE"/>
<rect x="1675.53" y="541.2" width="9.3" height="34.3" fill="#BEBEBE"/>
<rect x="1689.1" y="541.2" width="9.3" height="34.3" fill="#BEBEBE"/>
<rect x="1702.66" y="541.2" width="9.3" height="34.3" fill="#BEBEBE"/>
<rect x="1716.23" y="541.2" width="9.3" height="34.3" fill="#BEBEBE"/>
<rect x="1729.8" y="541.2" width="9.3" height="34.3" fill="#BEBEBE"/>
<rect x="1743.36" y="541.2" width="9.3" height="34.3" fill="#BEBEBE"/>
<rect x="1756.92" y="541.2" width="9.3" height="34.3" fill="#BEBEBE"/>
<rect x="1770.49" y="541.2" width="9.3" height="34.3" fill="#BEBEBE"/>
<rect x="1784.05" y="541.2" width="9.3" height="34.3" fill="#BEBEBE"/>
<rect x="1797.62" y="541.2" width="9.3" height="34.3" fill="#BEBEBE"/>
<rect x="1811.18" y="541.2" width="9.3" height="34.3" fill="#BEBEBE"/>
<rect x="1824.75" y="541.2" width="9.3" height="34.3" fill="#BEBEBE"/>
<rect x="1838.32" y="541.2" width="9.3" height="34.3" fill="#BEBEBE"/>
<rect x="1851.88" y="541.2" width="9.3" height="34.3" fill="#BEBEBE"/>
<rect x="1865.44" y="541.2" width="9.3" height="34.3" fill="#BEBEBE"/>
<rect x="1879.01" y="541.2" width="9.3" height="34.3" fill="#BEBEBE"/>
<rect x="1892.57" y="541.2" width="9.3" height="34.3" fill="#BEBEBE"/>
<text x="1239" y="562.15" font-size="26.3">FGFR4</text>
<text x="1347" y="562.15" font-size="26.3">0%</text>
<text x="1190" y="631.5" font-size="26.3">Genetic Alteration</text>
<rect x="1418.3" y="585.6" width="12.3" height="27.4" fill="#BEBEBE"/>
<rect x="1418.3" y="593" width="12.3" height="13.8" fill="#5080D0"/>
<text x="1436" y="611" font-size="26.1">Missense Mutation</text>
<rect x="1687" y="585.6" width="13" height="27.4" fill="#BEBEBE"/>
<rect x="1687" y="590.7" width="13" height="16.1" fill="#A020F0"/>
<text x="1705.3" y="611" font-size="26.5">Structural Variant</text>
<rect x="1418.3" y="622.5" width="12.3" height="27.5" fill="#FF2010"/>
<text x="1436" y="648" font-size="26">Amplification</text>
<rect x="1687" y="622.5" width="13" height="27.5" fill="#BEBEBE"/>
<text x="1705.3" y="648" font-size="26.1">No alterations</text>
<text x="1160.6" y="709.4" font-size="26.5">Cancer Type</text>
<text x="1160.6" y="741.2" font-size="26.5">Detailed</text>
<rect x="1333.5" y="672.5" width="13.2" height="28.4" fill="#E0421E"/>
<text x="1351.4" y="698" font-size="26">Cholangiocarcinoma</text>
<rect x="1602.7" y="672.5" width="13.6" height="28.4" fill="#F09A2C"/>
<text x="1621.4" y="698" font-size="26">Perihilar Cholangiocarcinoma</text>
<rect x="1333.5" y="714.9" width="13.2" height="28.4" fill="#4470D6"/>
<text x="1351.4" y="740.3" font-size="26.1">Intrahepatic Cholangiocarcinoma</text>
</g>
<g id="panelC">
<text x="18" y="777.8" font-size="52.5" font-weight="bold">C</text>
<line x1="168" y1="802.6" x2="168" y2="1164.1" stroke="#000" stroke-width="3.8"/>
<line x1="157.3" y1="1162.2" x2="672" y2="1162.2" stroke="#000" stroke-width="3.8"/>
<line x1="157.3" y1="804.5" x2="168" y2="804.5" stroke="#000" stroke-width="3.8"/>
<text x="0" y="0" font-size="29.8" text-anchor="end" transform="translate(151.2 815) scale(1.05 1)">1.25</text>
<line x1="157.3" y1="876.1" x2="168" y2="876.1" stroke="#000" stroke-width="3.8"/>
<text x="0" y="0" font-size="29.8" text-anchor="end" transform="translate(151.2 886.6) scale(1.05 1)">1.00</text>
<line x1="157.3" y1="947.6" x2="168" y2="947.6" stroke="#000" stroke-width="3.8"/>
<text x="0" y="0" font-size="29.8" text-anchor="end" transform="translate(151.2 958.1) scale(1.05 1)">0.75</text>
<line x1="157.3" y1="1019.2" x2="168" y2="1019.2" stroke="#000" stroke-width="3.8"/>
<text x="0" y="0" font-size="29.8" text-anchor="end" transform="translate(151.2 1029.7) scale(1.05 1)">0.50</text>
<line x1="157.3" y1="1090.7" x2="168" y2="1090.7" stroke="#000" stroke-width="3.8"/>
<text x="0" y="0" font-size="29.8" text-anchor="end" transform="translate(151.2 1101.2) scale(1.05 1)">0.25</text>
<line x1="157.3" y1="1162.2" x2="168" y2="1162.2" stroke="#000" stroke-width="3.8"/>
<text x="0" y="0" font-size="29.8" text-anchor="end" transform="translate(151.2 1172.7) scale(1.05 1)">0.00</text>
<line x1="206.65" y1="835.93" x2="206.65" y2="877" stroke="#000" stroke-width="3.8"/>
<line x1="196.9" y1="835.93" x2="216.4" y2="835.93" stroke="#000" stroke-width="3.8"/>
<rect x="188.9" y="877.4" width="35.5" height="284.8" fill="#000" stroke="#000" stroke-width="3.8"/>
<line x1="206.65" y1="1162.2" x2="206.65" y2="1173.2" stroke="#000" stroke-width="3.8"/>
<text x="0" y="0" font-size="29.5" text-anchor="middle" transform="translate(206.95 1203.3) scale(1.115 1)">Veh</text>
<line x1="264.65" y1="910.92" x2="264.65" y2="944.69" stroke="#000" stroke-width="3.8"/>
<line x1="254.9" y1="910.92" x2="274.4" y2="910.92" stroke="#000" stroke-width="3.8"/>
<rect x="247.3" y="943.69" width="34.7" height="218.51" fill="#F2777F" stroke="#000" stroke-width="3.8"/>
<line x1="264.65" y1="1162.2" x2="264.65" y2="1173.2" stroke="#000" stroke-width="3.8"/>
<text x="0" y="0" font-size="29.5" text-anchor="middle" transform="translate(264.95 1203.3) scale(1.115 1)">2.5</text>
<text x="264.65" y="910.31" font-size="25.5" text-anchor="middle">*</text>
<line x1="322.9" y1="1010.51" x2="322.9" y2="1021.53" stroke="#000" stroke-width="3.8"/>
<line x1="313.15" y1="1010.51" x2="332.65" y2="1010.51" stroke="#000" stroke-width="3.8"/>
<rect x="305.7" y="1020.53" width="34.4" height="141.67" fill="#BCB87A" stroke="#000" stroke-width="3.8"/>
<line x1="322.9" y1="1162.2" x2="322.9" y2="1173.2" stroke="#000" stroke-width="3.8"/>
<text x="0" y="0" font-size="29.5" text-anchor="middle" transform="translate(323.2 1203.3) scale(1.115 1)">5</text>
<text x="322.9" y="1007.01" font-size="25.5" text-anchor="middle">***</text>
<line x1="380.75" y1="1036.27" x2="380.75" y2="1067.32" stroke="#000" stroke-width="3.8"/>
<line x1="371" y1="1036.27" x2="390.5" y2="1036.27" stroke="#000" stroke-width="3.8"/>
<rect x="363.2" y="1066.32" width="35.1" height="95.88" fill="#8E8EFF" stroke="#000" stroke-width="3.8"/>
<line x1="380.75" y1="1162.2" x2="380.75" y2="1173.2" stroke="#000" stroke-width="3.8"/>
<text x="0" y="0" font-size="29.5" text-anchor="middle" transform="translate(381.05 1203.3) scale(1.115 1)">10</text>
<text x="380.75" y="1035.01" font-size="25.5" text-anchor="middle">***</text>
<line x1="458.05" y1="833.07" x2="458.05" y2="877" stroke="#000" stroke-width="3.8"/>
<line x1="448.3" y1="833.07" x2="467.8" y2="833.07" stroke="#000" stroke-width="3.8"/>
<rect x="440.5" y="877.4" width="35.1" height="284.8" fill="#000" stroke="#000" stroke-width="3.8"/>
<line x1="458.05" y1="1162.2" x2="458.05" y2="1173.2" stroke="#000" stroke-width="3.8"/>
<text x="0" y="0" font-size="29.5" text-anchor="middle" transform="translate(458.35 1203.3) scale(1.115 1)">Veh</text>
<line x1="516.4" y1="913.21" x2="516.4" y2="952.84" stroke="#000" stroke-width="3.8"/>
<line x1="506.65" y1="913.21" x2="526.15" y2="913.21" stroke="#000" stroke-width="3.8"/>
<rect x="499.1" y="951.84" width="34.6" height="210.36" fill="#F2777F" stroke="#000" stroke-width="3.8"/>
<line x1="516.4" y1="1162.2" x2="516.4" y2="1173.2" stroke="#000" stroke-width="3.8"/>
<text x="0" y="0" font-size="29.5" text-anchor="middle" transform="translate(516.7 1203.3) scale(1.115 1)">2.5</text>
<text x="516.4" y="910.31" font-size="25.5" text-anchor="middle">*</text>
<line x1="573.75" y1="990.48" x2="573.75" y2="1028.69" stroke="#000" stroke-width="3.8"/>
<line x1="564" y1="990.48" x2="583.5" y2="990.48" stroke="#000" stroke-width="3.8"/>
<rect x="556.4" y="1027.69" width="34.7" height="134.51" fill="#BCB87A" stroke="#000" stroke-width="3.8"/>
<line x1="573.75" y1="1162.2" x2="573.75" y2="1173.2" stroke="#000" stroke-width="3.8"/>
<text x="0" y="0" font-size="29.5" text-anchor="middle" transform="translate(574.05 1203.3) scale(1.115 1)">5</text>
<text x="573.75" y="988.61" font-size="25.5" text-anchor="middle">**</text>
<line x1="631.8" y1="1113.55" x2="631.8" y2="1124.56" stroke="#000" stroke-width="3.8"/>
<line x1="622.05" y1="1113.55" x2="641.55" y2="1113.55" stroke="#000" stroke-width="3.8"/>
<rect x="614.3" y="1123.56" width="35" height="38.64" fill="#8E8EFF" stroke="#000" stroke-width="3.8"/>
<line x1="631.8" y1="1162.2" x2="631.8" y2="1173.2" stroke="#000" stroke-width="3.8"/>
<text x="0" y="0" font-size="29.5" text-anchor="middle" transform="translate(632.1 1203.3) scale(1.115 1)">10</text>
<text x="631.8" y="1111.01" font-size="25.5" text-anchor="middle">***</text>
<line x1="167" y1="1216.8" x2="394.5" y2="1216.8" stroke="#000" stroke-width="3.8"/>
<line x1="430.6" y1="1216.8" x2="669.8" y2="1216.8" stroke="#000" stroke-width="3.8"/>
<text x="0" y="0" font-size="24.8" text-anchor="middle" transform="translate(289.5 1253.8) scale(1.065 1)">GSK805 (μM)</text>
<text x="0" y="0" font-size="24.8" text-anchor="middle" transform="translate(544.2 1253.8) scale(1.065 1)">XY101 (μM)</text>
<text x="0" y="0" font-size="25.7" text-anchor="middle" transform="translate(40.8 981) rotate(-90) scale(1.05 1)">Relative FGFR2 mRNA level</text>
<text x="0" y="0" font-size="25.7" text-anchor="middle" transform="translate(73.8 981) rotate(-90) scale(1.05 1)">(RBE cells)</text>
</g>
<g id="panelD">
<text x="651" y="790" font-size="52.5" font-weight="bold">D</text>
<line x1="869.2" y1="779.35" x2="869.2" y2="1163.15" stroke="#000" stroke-width="3.9"/>
<line x1="856.4" y1="1161.2" x2="1395.5" y2="1161.2" stroke="#000" stroke-width="3.9"/>
<line x1="856.4" y1="781.3" x2="869.2" y2="781.3" stroke="#000" stroke-width="3.9"/>
<text x="0" y="0" font-size="31" text-anchor="end" transform="translate(851.8 790.4) scale(1.058 1)">1.25</text>
<line x1="856.4" y1="857.2" x2="869.2" y2="857.2" stroke="#000" stroke-width="3.9"/>
<text x="0" y="0" font-size="31" text-anchor="end" transform="translate(851.8 866.3) scale(1.058 1)">1.00</text>
<line x1="856.4" y1="933.1" x2="869.2" y2="933.1" stroke="#000" stroke-width="3.9"/>
<text x="0" y="0" font-size="31" text-anchor="end" transform="translate(851.8 942.2) scale(1.058 1)">0.75</text>
<line x1="856.4" y1="1009" x2="869.2" y2="1009" stroke="#000" stroke-width="3.9"/>
<text x="0" y="0" font-size="31" text-anchor="end" transform="translate(851.8 1018.1) scale(1.058 1)">0.50</text>
<line x1="856.4" y1="1085" x2="869.2" y2="1085" stroke="#000" stroke-width="3.9"/>
<text x="0" y="0" font-size="31" text-anchor="end" transform="translate(851.8 1094.1) scale(1.058 1)">0.25</text>
<line x1="856.4" y1="1161.2" x2="869.2" y2="1161.2" stroke="#000" stroke-width="3.9"/>
<text x="0" y="0" font-size="31" text-anchor="end" transform="translate(851.8 1170.3) scale(1.058 1)">0.00</text>
<line x1="908.95" y1="811.3" x2="908.95" y2="858" stroke="#000" stroke-width="3.9"/>
<line x1="898.7" y1="811.3" x2="919.2" y2="811.3" stroke="#000" stroke-width="3.9"/>
<rect x="890.35" y="858.55" width="37.2" height="302.65" fill="#000" stroke="#000" stroke-width="3.9"/>
<line x1="908.95" y1="1161.2" x2="908.95" y2="1172" stroke="#000" stroke-width="3.9"/>
<text x="0" y="0" font-size="30.2" text-anchor="middle" transform="translate(909.25 1204.3) scale(1.15 1)">Veh</text>
<line x1="969.25" y1="841.8" x2="969.25" y2="886.5" stroke="#000" stroke-width="3.9"/>
<line x1="959" y1="841.8" x2="979.5" y2="841.8" stroke="#000" stroke-width="3.9"/>
<rect x="950.85" y="887.05" width="36.8" height="274.15" fill="#F2777F" stroke="#000" stroke-width="3.9"/>
<line x1="969.25" y1="1161.2" x2="969.25" y2="1172" stroke="#000" stroke-width="3.9"/>
<text x="0" y="0" font-size="30.2" text-anchor="middle" transform="translate(969.55 1204.3) scale(1.15 1)">2.5</text>
<text x="0" y="0" font-size="25" text-anchor="middle" transform="translate(969.25 827.2) scale(1.06 1)">ns</text>
<line x1="1029.4" y1="905" x2="1029.4" y2="950.2" stroke="#000" stroke-width="3.9"/>
<line x1="1019.15" y1="905" x2="1039.65" y2="905" stroke="#000" stroke-width="3.9"/>
<rect x="1011.05" y="950.75" width="36.7" height="210.45" fill="#BCB87A" stroke="#000" stroke-width="3.9"/>
<line x1="1029.4" y1="1161.2" x2="1029.4" y2="1172" stroke="#000" stroke-width="3.9"/>
<text x="0" y="0" font-size="30.2" text-anchor="middle" transform="translate(1029.7 1204.3) scale(1.15 1)">5</text>
<text x="1029.4" y="903.01" font-size="25.5" text-anchor="middle">**</text>
<line x1="1090.3" y1="1036.6" x2="1090.3" y2="1062.8" stroke="#000" stroke-width="3.9"/>
<line x1="1080.05" y1="1036.6" x2="1100.55" y2="1036.6" stroke="#000" stroke-width="3.9"/>
<rect x="1071.95" y="1063.35" width="36.7" height="97.85" fill="#8E8EFF" stroke="#000" stroke-width="3.9"/>
<line x1="1090.3" y1="1161.2" x2="1090.3" y2="1172" stroke="#000" stroke-width="3.9"/>
<text x="0" y="0" font-size="30.2" text-anchor="middle" transform="translate(1090.6 1204.3) scale(1.15 1)">10</text>
<text x="1090.3" y="1034.01" font-size="25.5" text-anchor="middle">***</text>
<line x1="1171" y1="817.4" x2="1171" y2="858" stroke="#000" stroke-width="3.9"/>
<line x1="1160.75" y1="817.4" x2="1181.25" y2="817.4" stroke="#000" stroke-width="3.9"/>
<rect x="1152.05" y="858.55" width="37.9" height="302.65" fill="#000" stroke="#000" stroke-width="3.9"/>
<line x1="1171" y1="1161.2" x2="1171" y2="1172" stroke="#000" stroke-width="3.9"/>
<text x="0" y="0" font-size="30.2" text-anchor="middle" transform="translate(1171.3 1204.3) scale(1.15 1)">Veh</text>
<line x1="1231.6" y1="893" x2="1231.6" y2="947.4" stroke="#000" stroke-width="3.9"/>
<line x1="1221.35" y1="893" x2="1241.85" y2="893" stroke="#000" stroke-width="3.9"/>
<rect x="1213.05" y="947.95" width="37.1" height="213.25" fill="#F2777F" stroke="#000" stroke-width="3.9"/>
<line x1="1231.6" y1="1161.2" x2="1231.6" y2="1172" stroke="#000" stroke-width="3.9"/>
<text x="0" y="0" font-size="30.2" text-anchor="middle" transform="translate(1231.9 1204.3) scale(1.15 1)">2.5</text>
<text x="1231.6" y="891.01" font-size="25.5" text-anchor="middle">*</text>
<line x1="1291.9" y1="938.8" x2="1291.9" y2="983.9" stroke="#000" stroke-width="3.9"/>
<line x1="1281.65" y1="938.8" x2="1302.15" y2="938.8" stroke="#000" stroke-width="3.9"/>
<rect x="1273.55" y="984.45" width="36.7" height="176.75" fill="#BCB87A" stroke="#000" stroke-width="3.9"/>
<line x1="1291.9" y1="1161.2" x2="1291.9" y2="1172" stroke="#000" stroke-width="3.9"/>
<text x="0" y="0" font-size="30.2" text-anchor="middle" transform="translate(1292.2 1204.3) scale(1.15 1)">5</text>
<text x="1291.9" y="935.01" font-size="25.5" text-anchor="middle">**</text>
<line x1="1353.05" y1="1024.6" x2="1353.05" y2="1053.6" stroke="#000" stroke-width="3.9"/>
<line x1="1342.8" y1="1024.6" x2="1363.3" y2="1024.6" stroke="#000" stroke-width="3.9"/>
<rect x="1334.45" y="1054.15" width="37.2" height="107.05" fill="#8E8EFF" stroke="#000" stroke-width="3.9"/>
<line x1="1353.05" y1="1161.2" x2="1353.05" y2="1172" stroke="#000" stroke-width="3.9"/>
<text x="0" y="0" font-size="30.2" text-anchor="middle" transform="translate(1353.35 1204.3) scale(1.15 1)">10</text>
<text x="1353.05" y="1019.51" font-size="25.5" text-anchor="middle">***</text>
<line x1="878.7" y1="1220.5" x2="1116.5" y2="1220.5" stroke="#000" stroke-width="3.9"/>
<line x1="1142" y1="1220.5" x2="1392.7" y2="1220.5" stroke="#000" stroke-width="3.9"/>
<text x="0" y="0" font-size="24.4" text-anchor="middle" transform="translate(1002 1258.2) scale(1.08 1)">GSK805 (μM)</text>
<text x="0" y="0" font-size="24.4" text-anchor="middle" transform="translate(1269 1258.2) scale(1.08 1)">XY101 (μM)</text>
<text x="0" y="0" font-size="25.7" text-anchor="middle" transform="translate(739.8 990.5) rotate(-90) scale(1.055 1)">Relative FGFR2 mRNA level</text>
<text x="0" y="0" font-size="25.7" text-anchor="middle" transform="translate(773.8 990.5) rotate(-90) scale(1.055 1)">(HUCCT-1 cells)</text>
</g>
<g id="panelE">
<text x="1383.2" y="814.4" font-size="52.5" font-weight="bold">E</text>
<line x1="1545.5" y1="877.6" x2="1545.5" y2="1195.9" stroke="#000" stroke-width="2.8"/>
<line x1="1534" y1="1194.5" x2="1951.4" y2="1194.5" stroke="#000" stroke-width="2.8"/>
<line x1="1534" y1="879" x2="1545.5" y2="879" stroke="#000" stroke-width="2.8"/>
<text x="0" y="0" font-size="25.8" text-anchor="end" transform="translate(1531.2 888.2) scale(0.88 1)">1.5</text>
<line x1="1534" y1="984.8" x2="1545.5" y2="984.8" stroke="#000" stroke-width="2.8"/>
<text x="0" y="0" font-size="25.8" text-anchor="end" transform="translate(1531.2 994) scale(0.88 1)">1.0</text>
<line x1="1534" y1="1089.5" x2="1545.5" y2="1089.5" stroke="#000" stroke-width="2.8"/>
<text x="0" y="0" font-size="25.8" text-anchor="end" transform="translate(1531.2 1098.7) scale(0.88 1)">0.5</text>
<line x1="1534" y1="1194.5" x2="1545.5" y2="1194.5" stroke="#000" stroke-width="2.8"/>
<text x="0" y="0" font-size="25.8" text-anchor="end" transform="translate(1531.2 1203.7) scale(0.88 1)">0.0</text>
<line x1="1577.6" y1="951.8" x2="1577.6" y2="985.8" stroke="#000" stroke-width="2.8"/>
<line x1="1567.1" y1="951.8" x2="1588.1" y2="951.8" stroke="#000" stroke-width="2.8"/>
<rect x="1557.8" y="986.2" width="39.6" height="208.3" fill="#000" stroke="#000" stroke-width="2.8"/>
<line x1="1641.45" y1="1049.9" x2="1641.45" y2="1069.6" stroke="#000" stroke-width="2.8"/>
<line x1="1630.95" y1="1049.9" x2="1651.95" y2="1049.9" stroke="#000" stroke-width="2.8"/>
<rect x="1621.4" y="1070" width="40.1" height="124.5" fill="#F2777F" stroke="#000" stroke-width="2.8"/>
<text x="1641.45" y="1047.89" font-size="23" text-anchor="middle">*</text>
<line x1="1705.3" y1="1079.3" x2="1705.3" y2="1090.8" stroke="#000" stroke-width="2.8"/>
<line x1="1694.8" y1="1079.3" x2="1715.8" y2="1079.3" stroke="#000" stroke-width="2.8"/>
<rect x="1685.6" y="1091.2" width="39.4" height="103.3" fill="#BCB87A" stroke="#000" stroke-width="2.8"/>
<text x="1705.3" y="1078.59" font-size="23" text-anchor="middle">**</text>
<line x1="1790.5" y1="955.9" x2="1790.5" y2="985.8" stroke="#000" stroke-width="2.8"/>
<line x1="1780" y1="955.9" x2="1801" y2="955.9" stroke="#000" stroke-width="2.8"/>
<rect x="1770.7" y="986.2" width="39.6" height="208.3" fill="#000" stroke="#000" stroke-width="2.8"/>
<line x1="1854.2" y1="1045.4" x2="1854.2" y2="1057.8" stroke="#000" stroke-width="2.8"/>
<line x1="1843.7" y1="1045.4" x2="1864.7" y2="1045.4" stroke="#000" stroke-width="2.8"/>
<rect x="1834.2" y="1058.2" width="40" height="136.3" fill="#F2777F" stroke="#000" stroke-width="2.8"/>
<text x="1854.2" y="1044.59" font-size="23" text-anchor="middle">*</text>
<line x1="1918.3" y1="1085.8" x2="1918.3" y2="1099.2" stroke="#000" stroke-width="2.8"/>
<line x1="1907.8" y1="1085.8" x2="1928.8" y2="1085.8" stroke="#000" stroke-width="2.8"/>
<rect x="1898.6" y="1099.6" width="39.4" height="94.9" fill="#BCB87A" stroke="#000" stroke-width="2.8"/>
<text x="1918.3" y="1084.59" font-size="23" text-anchor="middle">**</text>
<line x1="1641.3" y1="1194.5" x2="1641.3" y2="1207.5" stroke="#000" stroke-width="2.8"/>
<line x1="1853.6" y1="1194.5" x2="1853.6" y2="1207.5" stroke="#000" stroke-width="2.8"/>
<line x1="1537" y1="1219.8" x2="1709.5" y2="1219.8" stroke="#000" stroke-width="2.8"/>
<line x1="1768.9" y1="1219.8" x2="1942" y2="1219.8" stroke="#000" stroke-width="2.8"/>
<text x="1628.9" y="1257.4" font-size="25.6" text-anchor="middle">RBE</text>
<text x="1846.3" y="1257.4" font-size="25.7" text-anchor="middle">HUCCT-1</text>
<text x="1470.4" y="1049" font-size="26.2" text-anchor="middle" transform="rotate(-90 1470.4 1049)">Relative FGF1 mRNA level</text>
<rect x="1562" y="854.8" width="28.7" height="11.5" fill="#000"/>
<text x="1597" y="867.3" font-size="26.2">Vehicle</text>
<rect x="1701.7" y="856" width="26.2" height="9.2" fill="#F2777F" stroke="#000" stroke-width="2.4"/>
<text x="1734.4" y="867.3" font-size="26.2">GSK805</text>
<rect x="1851.5" y="856" width="26.2" height="9.2" fill="#BCB87A" stroke="#000" stroke-width="2.4"/>
<text x="1884.5" y="867.3" font-size="26">XY101</text>
</g>
<g id="panelF">
<defs><filter id="bl1" x="-20%" y="-100%" width="140%" height="300%"><feGaussianBlur stdDeviation="1.5"/></filter><filter id="bl2" x="-20%" y="-100%" width="140%" height="300%"><feGaussianBlur stdDeviation="2.3"/></filter><filter id="bl3" x="-20%" y="-100%" width="140%" height="300%"><feGaussianBlur stdDeviation="3.4"/></filter><filter id="bl4" x="-30%" y="-100%" width="160%" height="300%"><feGaussianBlur stdDeviation="6"/></filter><filter id="noise" x="0" y="0" width="100%" height="100%"><feTurbulence type="fractalNoise" baseFrequency="0.28" numOctaves="2" seed="3" result="t"/><feColorMatrix in="t" type="matrix" values="0 0 0 0 0  0 0 0 0 0  0 0 0 0 0  1.5 0 0 0 -0.5"/><feGaussianBlur stdDeviation="0.7"/></filter></defs>
<text x="36.5" y="1365" font-size="52.5" font-weight="bold">F</text>
<text x="273.7" y="1327.3" font-size="26.5" text-anchor="middle">GSK805 (μM)</text>
<text x="547" y="1327.3" font-size="26.5" text-anchor="middle">XY101 (μM)</text>
<line x1="145.5" y1="1343" x2="379" y2="1343" stroke="#000" stroke-width="1.9"/>
<line x1="421.6" y1="1342" x2="667.3" y2="1342" stroke="#000" stroke-width="1.9"/>
<text x="673.3" y="1364.6" font-size="25.5">kDa</text>
<text x="163.5" y="1383" font-size="27" text-anchor="middle">Veh</text>
<text x="235.3" y="1383" font-size="26" text-anchor="middle">2.5</text>
<text x="297.8" y="1383" font-size="26" text-anchor="middle">5</text>
<text x="358" y="1383" font-size="26" text-anchor="middle">10</text>
<text x="431.7" y="1383" font-size="27" text-anchor="middle">Veh</text>
<text x="495" y="1383" font-size="26" text-anchor="middle">2.5</text>
<text x="558.3" y="1383" font-size="26" text-anchor="middle">5</text>
<text x="619.2" y="1383" font-size="26" text-anchor="middle">10</text>
<text x="109.5" y="1442.3" font-size="26" text-anchor="end">p-FGFR2</text>
<text x="109.5" y="1504.4" font-size="26" text-anchor="end">FGFR2</text>
<text x="109.5" y="1567.4" font-size="26" text-anchor="end">FGF1</text>
<text x="109.5" y="1630.7" font-size="26" text-anchor="end">GAPDH</text>
<text x="109.5" y="1714" font-size="26" text-anchor="end">p-FGFR2</text>
<text x="109.5" y="1776.3" font-size="26" text-anchor="end">FGFR2</text>
<text x="109.5" y="1839.2" font-size="26" text-anchor="end">FGF1</text>
<text x="109.5" y="1902.5" font-size="26" text-anchor="end">GAPDH</text>
<text x="696.2" y="1428.3" font-size="25.2" text-anchor="middle">145</text>
<text x="696.2" y="1491.2" font-size="25.2" text-anchor="middle">145</text>
<text x="696.2" y="1555.8" font-size="25.2" text-anchor="middle">20</text>
<text x="696.2" y="1619.5" font-size="25.2" text-anchor="middle">37</text>
<text x="694.6" y="1713" font-size="25.2" text-anchor="middle">145</text>
<text x="694.6" y="1777" font-size="25.2" text-anchor="middle">145</text>
<text x="694.6" y="1840.4" font-size="25.2" text-anchor="middle">20</text>
<text x="694.6" y="1904.5" font-size="25.2" text-anchor="middle">37</text>
<line x1="733.2" y1="1396.5" x2="733.2" y2="1644.6" stroke="#000" stroke-width="1.9"/>
<line x1="732.7" y1="1693.6" x2="732.7" y2="1919.4" stroke="#000" stroke-width="1.9"/>
<text x="747" y="1515" font-size="26" text-anchor="middle" transform="rotate(90 747 1515)">RBE</text>
<text x="747" y="1802.3" font-size="26" text-anchor="middle" transform="rotate(90 747 1802.3)">HUCCT-1</text>
<clipPath id="bc1"><rect x="124.3" y="1395.3" width="270.2" height="59"/></clipPath>
<g clip-path="url(#bc1)">
<rect x="124.3" y="1395.3" width="270.2" height="59" fill="#a6a6a6"/>
<g filter="url(#bl1)" opacity="1">
<rect x="154.5" y="1422.25" width="43.9" height="7.5" rx="3.75" fill="#000"/>
<path d="M161.5 1420.8L185 1422.25L185 1429.75L161.5 1434.8A7 7 0 0 1 161.5 1420.8Z" fill="#000"/>
</g>
<g filter="url(#bl1)" opacity="1">
<rect x="215" y="1422.75" width="43.8" height="6.5" rx="3.25" fill="#000"/>
<path d="M220.8 1421.7L245 1422.75L245 1429.25L220.8 1433.3A5.8 5.8 0 0 1 220.8 1421.7Z" fill="#000"/>
</g>
<g filter="url(#bl2)" opacity="0.35">
<rect x="128" y="1425.5" width="24" height="5" rx="2.5" fill="#000"/>
</g>
<g filter="url(#bl2)" opacity="0.4">
<rect x="280" y="1423.5" width="42" height="5" rx="2.5" fill="#000"/>
</g>
<g filter="url(#bl2)" opacity="0.5">
<rect x="339" y="1421.5" width="40" height="5" rx="2.5" fill="#000"/>
</g>
<rect x="124.3" y="1395.3" width="270.2" height="59" filter="url(#noise)" opacity="0.32"/>
</g>
<rect x="125.4" y="1396.4" width="268" height="56.8" fill="none" stroke="#838383" stroke-width="2.2"/>
<clipPath id="bc2"><rect x="124.3" y="1460" width="270.2" height="59.5"/></clipPath>
<g clip-path="url(#bc2)">
<linearGradient id="bg2" x1="0" y1="0" x2="1" y2="0"><stop offset="0" stop-color="#b8b8b8"/><stop offset="0.3" stop-color="#c8c8c8"/><stop offset="1" stop-color="#d2d2d2"/></linearGradient>
<rect x="124.3" y="1460" width="270.2" height="59.5" fill="url(#bg2)"/>
<ellipse cx="165" cy="1470" rx="30" ry="18" fill="#000" opacity="0.42" filter="url(#bl4)"/><ellipse cx="150" cy="1490" rx="22" ry="14" fill="#000" opacity="0.25" filter="url(#bl4)"/>
<g filter="url(#bl1)" opacity="1">
<rect x="138.7" y="1493.9" width="46" height="4.2" rx="2.1" fill="#000"/>
<path d="M145.2 1491.7L166 1493.9L166 1498.1L145.2 1504.7A6.5 6.5 0 0 1 145.2 1491.7Z" fill="#000"/>
</g>
<g filter="url(#bl2)" opacity="0.62">
<rect x="207.8" y="1494.5" width="44.6" height="4" rx="2" fill="#000"/>
<path d="M210.4 1495.4L222 1494.5L222 1498.5L210.4 1500.6A2.6 2.6 0 0 1 210.4 1495.4Z" fill="#000"/>
</g>
<g filter="url(#bl2)" opacity="0.45">
<rect x="274" y="1492.75" width="41.7" height="4.5" rx="2.25" fill="#000"/>
</g>
<g filter="url(#bl2)" opacity="0.68">
<rect x="337.3" y="1490.85" width="40.3" height="5.5" rx="2.75" fill="#000"/>
</g>
</g>
<rect x="125.4" y="1461.1" width="268" height="57.3" fill="none" stroke="#838383" stroke-width="2.2"/>
<clipPath id="bc3"><rect x="124.3" y="1525.3" width="270.2" height="59.2"/></clipPath>
<g clip-path="url(#bc3)">
<rect x="124.3" y="1525.3" width="270.2" height="59.2" fill="#cccccc"/>
<g filter="url(#bl3)" opacity="0.72">
<rect x="137.3" y="1552.8" width="53.2" height="11" rx="5.5" fill="#000"/>
</g>
<g filter="url(#bl3)" opacity="0.4">
<rect x="206.3" y="1549.5" width="47.5" height="9" rx="4.5" fill="#000"/>
</g>
<g filter="url(#bl3)" opacity="0.36">
<rect x="271" y="1549.5" width="50.4" height="9" rx="4.5" fill="#000"/>
</g>
<g filter="url(#bl3)" opacity="0.36">
<rect x="335.8" y="1552" width="60.2" height="10" rx="5" fill="#000"/>
</g>
<g filter="url(#bl3)" opacity="0.25">
<rect x="362" y="1559" width="36" height="8" rx="4" fill="#000"/>
</g>
</g>
<rect x="125.4" y="1526.4" width="268" height="57" fill="none" stroke="#838383" stroke-width="2.2"/>
<clipPath id="bc4"><rect x="124.3" y="1590" width="270.2" height="59.7"/></clipPath>
<g clip-path="url(#bc4)">
<rect x="124.3" y="1590" width="270.2" height="59.7" fill="#d2d2d2"/>
<path d="M114.3 1580H404.5V1604L114.3 1609Z" fill="#e8e8e8" filter="url(#bl1)"/>
<g filter="url(#bl2)" opacity="0.95">
<rect x="147.3" y="1621.75" width="49" height="8.5" rx="4.25" fill="#000"/>
</g>
<g filter="url(#bl2)" opacity="1">
<rect x="209.2" y="1620.25" width="50.4" height="9.5" rx="4.75" fill="#000"/>
</g>
<g filter="url(#bl2)" opacity="0.9">
<rect x="274" y="1617.45" width="48.9" height="8.5" rx="4.25" fill="#000"/>
</g>
<g filter="url(#bl2)" opacity="0.8">
<rect x="333" y="1615" width="63" height="9" rx="4.5" fill="#000"/>
</g>
<g filter="url(#bl3)" opacity="0.12">
<rect x="150" y="1638" width="40" height="8" rx="4" fill="#000"/>
</g>
<g filter="url(#bl3)" opacity="0.1">
<rect x="215" y="1636" width="40" height="8" rx="4" fill="#000"/>
</g>
<g filter="url(#bl3)" opacity="0.12">
<rect x="340" y="1632" width="35" height="8" rx="4" fill="#000"/>
</g>
</g>
<rect x="125.4" y="1591.1" width="268" height="57.5" fill="none" stroke="#838383" stroke-width="2.2"/>
<clipPath id="bc5"><rect x="400" y="1395.3" width="269.5" height="59"/></clipPath>
<g clip-path="url(#bc5)">
<rect x="400" y="1395.3" width="269.5" height="59" fill="#bbbbbb"/>
<g filter="url(#bl1)" opacity="1">
<rect x="408" y="1419.3" width="46.7" height="12" rx="6" fill="#000"/>
</g>
<g filter="url(#bl3)" opacity="0.33">
<rect x="465.5" y="1422" width="48.9" height="7" rx="3.5" fill="#000"/>
</g>
<g filter="url(#bl3)" opacity="0.18">
<rect x="533" y="1421" width="47.6" height="8" rx="4" fill="#000"/>
</g>
<g filter="url(#bl2)" opacity="0.3">
<rect x="595" y="1421.5" width="49" height="6" rx="3" fill="#000"/>
</g>
<rect x="400" y="1395.3" width="269.5" height="59" filter="url(#noise)" opacity="0.32"/>
</g>
<rect x="401.1" y="1396.4" width="267.3" height="56.8" fill="none" stroke="#838383" stroke-width="2.2"/>
<clipPath id="bc6"><rect x="400" y="1460.8" width="269.5" height="59"/></clipPath>
<g clip-path="url(#bc6)">
<rect x="400" y="1460.8" width="269.5" height="59" fill="#c4c4c4"/>
<g filter="url(#bl1)" opacity="1">
<rect x="412.3" y="1488.6" width="44.6" height="6" rx="3" fill="#000"/>
<path d="M417.1 1487.6L440 1488.6L440 1494.6L417.1 1497.2A4.8 4.8 0 0 1 417.1 1487.6Z" fill="#000"/>
</g>
<g filter="url(#bl2)" opacity="0.75">
<rect x="480" y="1491.3" width="43" height="6" rx="3" fill="#000"/>
</g>
<g filter="url(#bl2)" opacity="0.72">
<rect x="544" y="1491.25" width="43.8" height="5.5" rx="2.75" fill="#000"/>
</g>
<g filter="url(#bl2)" opacity="0.4">
<rect x="609.4" y="1494.5" width="46" height="4" rx="2" fill="#000"/>
</g>
</g>
<rect x="401.1" y="1461.9" width="267.3" height="56.8" fill="none" stroke="#838383" stroke-width="2.2"/>
<clipPath id="bc7"><rect x="400" y="1525.5" width="269.5" height="59"/></clipPath>
<g clip-path="url(#bc7)">
<rect x="400" y="1525.5" width="269.5" height="59" fill="#d2d2d2"/>
<circle cx="557.5" cy="1576.8" r="1.5" fill="#333" opacity="0.8"/><circle cx="518.5" cy="1576.5" r="0.9" fill="#444" opacity="0.7"/><circle cx="501" cy="1557" r="1.3" fill="#555" opacity="0.6"/><circle cx="545" cy="1561" r="1.2" fill="#666" opacity="0.6"/>
<g filter="url(#bl3)" opacity="0.75">
<rect x="408" y="1554" width="48.9" height="13" rx="6.5" fill="#000"/>
</g>
<g filter="url(#bl3)" opacity="0.3">
<rect x="469.8" y="1553.1" width="47.5" height="9" rx="4.5" fill="#000"/>
</g>
<g filter="url(#bl3)" opacity="0.25">
<rect x="533" y="1555.5" width="52" height="11" rx="5.5" fill="#000"/>
</g>
<g filter="url(#bl3)" opacity="0.28">
<rect x="595" y="1557.8" width="56" height="14" rx="7" fill="#000"/>
</g>
</g>
<rect x="401.1" y="1526.6" width="267.3" height="56.8" fill="none" stroke="#838383" stroke-width="2.2"/>
<clipPath id="bc8"><rect x="400" y="1589.7" width="269.5" height="59.3"/></clipPath>
<g clip-path="url(#bc8)">
<rect x="400" y="1589.7" width="269.5" height="59.3" fill="#b4b4b4"/>
<g filter="url(#bl2)" opacity="1">
<ellipse cx="437.75" cy="1620.2" rx="27.25" ry="9.5" fill="#000"/>
<rect x="416.5" y="1611.2" width="42.5" height="18" rx="9" fill="#000"/>
</g>
<g filter="url(#bl2)" opacity="1">
<ellipse cx="497.5" cy="1621.7" rx="25.1" ry="9.5" fill="#000"/>
<rect x="478.4" y="1612.7" width="38.2" height="18" rx="9" fill="#000"/>
</g>
<g filter="url(#bl2)" opacity="1">
<ellipse cx="558.7" cy="1622" rx="28.7" ry="11.5" fill="#000"/>
<rect x="536" y="1611" width="45.4" height="22" rx="11" fill="#000"/>
</g>
<g filter="url(#bl2)" opacity="1">
<ellipse cx="623.1" cy="1622" rx="30.5" ry="11.5" fill="#000"/>
<rect x="598.6" y="1611" width="49" height="22" rx="11" fill="#000"/>
</g>
</g>
<rect x="401.1" y="1590.8" width="267.3" height="57.1" fill="none" stroke="#838383" stroke-width="2.2"/>
<clipPath id="bc9"><rect x="125.3" y="1672.9" width="269.2" height="58.7"/></clipPath>
<g clip-path="url(#bc9)">
<linearGradient id="bg9" x1="0" y1="0" x2="1" y2="0"><stop offset="0" stop-color="#c4c4c4"/><stop offset="0.06" stop-color="#9c9c9c"/><stop offset="0.42" stop-color="#a4a4a4"/><stop offset="0.62" stop-color="#b8b8b8"/><stop offset="0.74" stop-color="#d8d8d8"/><stop offset="1" stop-color="#e4e4e4"/></linearGradient>
<rect x="125.3" y="1672.9" width="269.2" height="58.7" fill="url(#bg9)"/>
<rect x="143" y="1660" width="48" height="80" fill="#000" opacity="0.22" filter="url(#bl4)"/><rect x="203" y="1660" width="36" height="70" fill="#000" opacity="0.25" filter="url(#bl4)"/><rect x="250" y="1722" width="150" height="14" fill="#fff" opacity="0.25" filter="url(#bl4)"/>
<g filter="url(#bl2)" opacity="1">
<rect x="145.2" y="1698.8" width="42.4" height="10" rx="5" fill="#000"/>
</g>
<g filter="url(#bl2)" opacity="1">
<rect x="205.6" y="1697.65" width="30.9" height="9.5" rx="4.75" fill="#000"/>
</g>
<g filter="url(#bl2)" opacity="0.4">
<rect x="253.8" y="1703.5" width="43.2" height="5" rx="2.5" fill="#000"/>
</g>
<g filter="url(#bl3)" opacity="0.13">
<rect x="321.4" y="1705.5" width="34.6" height="5" rx="2.5" fill="#000"/>
</g>
</g>
<rect x="126.4" y="1674" width="267" height="56.5" fill="none" stroke="#838383" stroke-width="2.2"/>
<clipPath id="bc10"><rect x="125.3" y="1736.7" width="269.2" height="59.5"/></clipPath>
<g clip-path="url(#bc10)">
<rect x="125.3" y="1736.7" width="269.2" height="59.5" fill="#dadada"/>
<g filter="url(#bl2)" opacity="0.72">
<rect x="150.2" y="1763.25" width="44.6" height="5.5" rx="2.75" fill="#000"/>
<ellipse cx="153.5" cy="1768" rx="2.5" ry="4" fill="#000"/>
</g>
<g filter="url(#bl2)" opacity="0.92">
<rect x="213.5" y="1762.25" width="41.8" height="7.5" rx="3.75" fill="#000"/>
</g>
<g filter="url(#bl2)" opacity="0.6">
<rect x="274" y="1764.75" width="41.7" height="4.5" rx="2.25" fill="#000"/>
</g>
<g filter="url(#bl2)" opacity="0.42">
<rect x="335.8" y="1767.75" width="41.8" height="4.5" rx="2.25" fill="#000"/>
</g>
</g>
<rect x="126.4" y="1737.8" width="267" height="57.3" fill="none" stroke="#838383" stroke-width="2.2"/>
<clipPath id="bc11"><rect x="125.3" y="1802.4" width="269.2" height="59"/></clipPath>
<g clip-path="url(#bc11)">
<rect x="125.3" y="1802.4" width="269.2" height="59" fill="#f3f3f3"/>
<g filter="url(#bl3)" opacity="0.85">
<rect x="143" y="1828" width="49" height="8" rx="4" fill="#000"/>
</g>
<g filter="url(#bl3)" opacity="0.7">
<rect x="202" y="1828.6" width="47.5" height="8" rx="4" fill="#000"/>
</g>
<g filter="url(#bl3)" opacity="0.5">
<rect x="263.9" y="1829.8" width="56.1" height="7" rx="3.5" fill="#000"/>
</g>
<g filter="url(#bl3)" opacity="0.5">
<rect x="334.4" y="1832.2" width="51.8" height="8" rx="4" fill="#000"/>
</g>
</g>
<rect x="126.4" y="1803.5" width="267" height="56.8" fill="none" stroke="#838383" stroke-width="2.2"/>
<clipPath id="bc12"><rect x="125.3" y="1867.9" width="269.2" height="58.7"/></clipPath>
<g clip-path="url(#bc12)">
<rect x="125.3" y="1867.9" width="269.2" height="58.7" fill="#c9c9c9"/>
<g filter="url(#bl3)" opacity="1">
<ellipse cx="174" cy="1901" rx="30" ry="10" fill="#000"/>
<rect x="150" y="1891.5" width="48" height="19" rx="9.5" fill="#000"/>
</g>
<g filter="url(#bl3)" opacity="1">
<ellipse cx="236.5" cy="1901.7" rx="29.5" ry="10" fill="#000"/>
<rect x="213" y="1892.2" width="47" height="19" rx="9.5" fill="#000"/>
</g>
<g filter="url(#bl3)" opacity="1">
<ellipse cx="296" cy="1901" rx="26" ry="10.5" fill="#000"/>
<rect x="276" y="1891" width="40" height="20" rx="10" fill="#000"/>
</g>
<g filter="url(#bl3)" opacity="1">
<ellipse cx="359" cy="1901" rx="32" ry="11.5" fill="#000"/>
<rect x="333" y="1890" width="52" height="22" rx="11" fill="#000"/>
</g>
</g>
<rect x="126.4" y="1869" width="267" height="56.5" fill="none" stroke="#838383" stroke-width="2.2"/>
<clipPath id="bc13"><rect x="400.3" y="1672" width="268.7" height="59.5"/></clipPath>
<g clip-path="url(#bc13)">
<rect x="400.3" y="1672" width="268.7" height="59.5" fill="#d3d3d3"/>
<rect x="414" y="1668" width="46" height="34" fill="#000" opacity="0.42" filter="url(#bl4)"/>
<g filter="url(#bl2)" opacity="1">
<rect x="416.6" y="1700.05" width="38.8" height="10.5" rx="5.25" fill="#000"/>
</g>
<g filter="url(#bl3)" opacity="0.25">
<rect x="478.5" y="1703.9" width="41.7" height="7" rx="3.5" fill="#000"/>
</g>
<g filter="url(#bl3)" opacity="0.33">
<rect x="544.6" y="1703.5" width="37.4" height="7" rx="3.5" fill="#000"/>
</g>
<g filter="url(#bl3)" opacity="0.25">
<rect x="608" y="1704.5" width="40" height="7" rx="3.5" fill="#000"/>
</g>
</g>
<rect x="401.4" y="1673.1" width="266.5" height="57.3" fill="none" stroke="#838383" stroke-width="2.2"/>
<clipPath id="bc14"><rect x="401.8" y="1737.7" width="269" height="59.3"/></clipPath>
<g clip-path="url(#bc14)">
<rect x="401.8" y="1737.7" width="269" height="59.3" fill="#c6c6c6"/>
<g filter="url(#bl1)" opacity="1">
<rect x="415" y="1766.5" width="49" height="4.6" rx="2.3" fill="#000"/>
<path d="M420.8 1763.8L440 1766.5L440 1771.1L420.8 1775.4A5.8 5.8 0 0 1 420.8 1763.8Z" fill="#000"/>
</g>
<g filter="url(#bl2)" opacity="0.95">
<rect x="482.8" y="1766.75" width="41.7" height="6.5" rx="3.25" fill="#000"/>
</g>
<g filter="url(#bl2)" opacity="0.85">
<rect x="543.2" y="1766.25" width="46" height="7.5" rx="3.75" fill="#000"/>
</g>
<g filter="url(#bl2)" opacity="0.4">
<rect x="609.4" y="1765.9" width="43.2" height="4" rx="2" fill="#000"/>
</g>
</g>
<rect x="402.9" y="1738.8" width="266.8" height="57.1" fill="none" stroke="#838383" stroke-width="2.2"/>
<clipPath id="bc15"><rect x="401.8" y="1802.4" width="269" height="58.6"/></clipPath>
<g clip-path="url(#bc15)">
<rect x="401.8" y="1802.4" width="269" height="58.6" fill="#eaeaea"/>
<g filter="url(#bl3)" opacity="0.8">
<rect x="412.3" y="1828.1" width="51.7" height="9" rx="4.5" fill="#000"/>
</g>
<g filter="url(#bl3)" opacity="0.42">
<rect x="472.7" y="1829.55" width="44.6" height="7.5" rx="3.75" fill="#000"/>
</g>
<g filter="url(#bl3)" opacity="0.36">
<rect x="530.3" y="1829.1" width="51.7" height="7" rx="3.5" fill="#000"/>
</g>
<g filter="url(#bl3)" opacity="0.42">
<rect x="592" y="1830.25" width="54.8" height="7.5" rx="3.75" fill="#000"/>
</g>
</g>
<rect x="402.9" y="1803.5" width="266.8" height="56.4" fill="none" stroke="#838383" stroke-width="2.2"/>
<clipPath id="bc16"><rect x="401.8" y="1867.6" width="269" height="59.3"/></clipPath>
<g clip-path="url(#bc16)">
<rect x="401.8" y="1867.6" width="269" height="59.3" fill="#c9c9c9"/>
<g filter="url(#bl3)" opacity="1">
<ellipse cx="442.5" cy="1896.7" rx="24.5" ry="9.75" fill="#000"/>
<rect x="424" y="1887.45" width="37" height="18.5" rx="9.25" fill="#000"/>
</g>
<g filter="url(#bl3)" opacity="1">
<ellipse cx="502" cy="1898" rx="28" ry="7.5" fill="#000"/>
<rect x="480" y="1891" width="44" height="14" rx="7" fill="#000"/>
</g>
<g filter="url(#bl3)" opacity="1">
<ellipse cx="567.5" cy="1896" rx="25.5" ry="10.25" fill="#000"/>
<rect x="548" y="1886.25" width="39" height="19.5" rx="9.75" fill="#000"/>
</g>
<g filter="url(#bl3)" opacity="1">
<ellipse cx="627" cy="1894.5" rx="30" ry="8.75" fill="#000"/>
<rect x="603" y="1886.25" width="48" height="16.5" rx="8.25" fill="#000"/>
</g>
</g>
<rect x="402.9" y="1868.7" width="266.8" height="57.1" fill="none" stroke="#838383" stroke-width="2.2"/>
</g>
<g id="panelG">
<text x="780" y="1355" font-size="52.5" font-weight="bold">G</text>
<line x1="801.7" y1="1527.8" x2="801.7" y2="1576.7" stroke="#000" stroke-width="1.6"/>
<text x="806" y="1544.5" font-size="24.5">40</text>
<path d="M803 1576.2L803 1576.2L803 1575.55L805 1575.85L805 1576.2L806 1576.2L806 1575.59L808 1575.89L808 1576.2L809 1576.2L809 1575.58L811 1575.64L811 1576.2L811 1576.2L811 1575.48L813 1575.5L813 1576.2L814 1576.2L814 1572.56L815 1572.82L815 1576.2L815 1576.2L815 1575.55L816 1575.78L816 1576.2L817 1576.2L817 1574.63L819 1575.12L819 1576.2L820 1576.2L820 1575.59L821 1575.69L821 1576.2L822 1576.2L822 1574.61L824 1575.17L824 1576.2L826 1576.2L826 1574.65L828 1574.75L828 1576.2L829 1576.2L829 1572.54L830 1573.6L830 1576.2L831 1576.2L831 1574.94L832 1575.15L832 1576.2L835 1576.2L835 1574.16L837 1574.59L837 1576.2L842 1576.2L842 1574.13L844 1574.14L844 1576.2L845 1576.2L845 1575.21L847 1575.69L847 1576.2L848 1576.2L848 1575.57L849 1575.64L849 1576.2L849 1576.2L849 1575.45L850 1575.5L850 1576.2L850 1576.2L850 1575.05L852 1575.12L852 1576.2L854 1576.2L854 1575.14L855 1575.2L855 1576.2L856 1576.2L856 1575.53L857 1575.79L857 1576.2L859 1576.2L859 1575.6L861 1575.79L861 1576.2L867 1576.2L867 1573.06L869 1573.26L869 1576.2L870 1576.2L870 1575.18L871 1575.36L871 1576.2L871 1576.2L871 1575.59L872 1575.85L872 1576.2L872 1576.2L872 1575.6L873 1575.85L873 1576.2L873 1576.2L873 1575.25L874 1575.31L874 1576.2L875 1576.2L875 1575.45L876 1575.69L876 1576.2L876 1576.2L876 1573.37L879 1574.12L879 1576.2L880 1576.2L880 1575.58L881 1575.81L881 1576.2L882 1576.2L882 1575.6L885 1575.74L885 1576.2L885 1576.2L885 1574.76L886 1575.1L886 1576.2L889 1576.2L889 1575.25L890 1575.36L890 1576.2L892 1576.2L892 1575.48L895 1575.49L895 1576.2L899 1576.2L899 1574.85L900 1575.5L900 1576.2L900 1576.2L900 1575.41L901 1575.53L901 1576.2L906 1576.2L906 1575.49L907 1575.77L907 1576.2L907 1576.2L907 1574.47L910 1574.6L910 1576.2L913 1576.2L913 1574.31L916 1574.52L916 1576.2L918 1576.2L918 1573.7L919 1573.95L919 1576.2L920 1576.2L920 1575.17L923 1575.31L923 1576.2L923 1576.2L923 1575.57L924 1575.6L924 1576.2L925 1576.2L925 1573.5L928 1573.96L928 1576.2L928 1576.2L928 1574.75L929 1575.46L929 1576.2L936 1576.2L936 1575.45L937 1575.73L937 1576.2L938 1576.2L938 1575.13L939 1575.18L939 1576.2L939 1576.2L939 1575.03L941 1575.08L941 1576.2L946 1576.2L946 1575.07L947 1575.63L947 1576.2L948 1576.2L948 1574.98L950 1575.25L950 1576.2L950 1576.2L950 1574.85L952 1574.99L952 1576.2L952 1576.2L952 1574.71L953 1575.25L953 1576.2L970 1576.2L970 1574.71L973 1574.83L973 1576.2L973 1576.2L973 1575.57L975 1575.86L975 1576.2L975 1576.2L975 1575.59L977 1575.66L977 1576.2L978 1576.2L978 1574.06L980 1574.98L980 1576.2L982 1576.2L982 1572.72L983 1573.62L983 1576.2L985 1576.2L985 1575.1L987 1575.46L987 1576.2L987 1576.2L987 1575.34L989 1575.76L989 1576.2L991 1576.2L991 1575.32L993 1575.53L993 1576.2L993 1576.2L993 1572.5L995 1572.56L995 1576.2L995 1576.2L995 1575.43L996 1575.51L996 1576.2L996 1576.2L996 1575.56L998 1575.59L998 1576.2L999 1576.2L999 1575.55L1002 1575.69L1002 1576.2L1003 1576.2L1003 1575.59L1005 1575.77L1005 1576.2L1005 1576.2L1005 1572.82L1007 1573.15L1007 1576.2L1007 1576.2L1007 1573.33L1008 1573.52L1008 1576.2L1009 1576.2L1009 1574.73L1012 1575.27L1012 1576.2L1012 1576.2L1012 1574.82L1013 1575.43L1013 1576.2L1013 1576.2L1013 1575.6L1014 1575.8L1014 1576.2L1014 1576.2L1014 1573.85L1015 1574.44L1015 1576.2L1015 1576.2L1015 1575.29L1016 1575.63L1016 1576.2L1016 1576.2L1016 1573.98L1018 1574.88L1018 1576.2L1020 1576.2L1020 1573.54L1022 1574.21L1022 1576.2L1023 1576.2L1023 1574.88L1025 1574.89L1025 1576.2L1025 1576.2L1025 1573.46L1027 1573.96L1027 1576.2L1027 1576.2L1027 1575.29L1028 1575.68L1028 1576.2L1028 1576.2L1028 1573.95L1029 1574.89L1029 1576.2L1029 1576.2L1029 1573.41L1032 1573.87L1032 1576.2L1032 1576.2L1032 1575.46L1033 1575.66L1033 1576.2L1033 1576.2L1033 1575.06L1034 1575.08L1034 1576.2L1036 1576.2L1036 1572.64L1037 1573.78L1037 1576.2L1037 1576.2L1037 1575.22L1039 1575.46L1039 1576.2L1039 1576.2L1039 1574.89L1040 1575.37L1040 1576.2L1040 1576.2L1040 1575.17L1041 1575.68L1041 1576.2L1041 1576.2L1041 1575.47L1043 1575.64L1043 1576.2L1047 1576.2L1047 1575.33L1050 1575.7L1050 1576.2L1052 1576.2L1052 1573.45L1055 1573.96L1055 1576.2L1057 1576.2L1057 1574.83L1059 1574.94L1059 1576.2L1065 1576.2L1065 1575.6L1066 1575.79L1066 1576.2L1066 1576.2L1066 1573.44L1068 1573.96L1068 1576.2L1071 1576.2L1071 1573.65L1073 1574.29L1073 1576.2L1075 1576.2L1075 1573.97L1076 1575L1076 1576.2L1076 1576.2L1076 1574L1077 1574.29L1077 1576.2L1079 1576.2L1079 1574.97L1081 1575.11L1081 1576.2L1083 1576.2L1083 1575.55L1084 1575.64L1084 1576.2L1084 1576.2L1084 1574.68L1085 1575.39L1085 1576.2L1085 1576.2L1085 1574.27L1087 1574.58L1087 1576.2L1087 1576.2L1087 1574.85L1089 1575.21L1089 1576.2L1089 1576.2L1089 1573.1L1090 1573.14L1090 1576.2L1091 1576.2L1091 1575.02L1094 1575.04L1094 1576.2L1095 1576.2L1095 1575.5L1098 1575.77L1098 1576.2L1099 1576.2L1099 1574.83L1102 1575.42L1102 1576.2L1106 1576.2L1106 1573.08L1108 1574.6L1108 1576.2L1108 1576.2L1108 1574.93L1110 1575.37L1110 1576.2L1110 1576.2L1110 1575.29L1111 1575.37L1111 1576.2L1111 1576.2L1111 1573.9L1114 1574.91L1114 1576.2L1117 1576.2L1117 1575.24L1118 1575.24L1118 1576.2L1119 1576.2L1119 1575.11L1120 1575.63L1120 1576.2L1120 1576.2L1120 1573.45L1121 1573.54L1121 1576.2L1121 1576.2L1121 1575.43L1123 1575.74L1123 1576.2L1123 1576.2L1123 1572.7L1126 1573.03L1126 1576.2L1131 1576.2L1131 1573.99L1133 1574.26L1133 1576.2L1134 1576.2L1134 1575.6L1137 1575.86L1137 1576.2L1138 1576.2L1138 1575.38L1140 1575.39L1140 1576.2L1140 1576.2L1140 1574.33L1141 1574.75L1141 1576.2L1141 1576.2L1141 1575.54L1142 1575.8L1142 1576.2L1144 1576.2L1144 1573.02L1147 1573.9L1147 1576.2L1147 1576.2L1147 1575.51L1148 1575.74L1148 1576.2L1148 1576.2L1148 1575.46L1149 1575.62L1149 1576.2L1151 1576.2L1151 1575.14L1153 1575.47L1153 1576.2L1153 1576.2L1153 1575.59L1154 1575.6L1154 1576.2L1154 1576.2L1154 1574.89L1156 1574.98L1156 1576.2L1156 1576.2L1156 1575.42L1157 1575.65L1157 1576.2L1161 1576.2L1161 1575.6L1163 1575.63L1163 1576.2L1165 1576.2L1165 1575.19L1168 1575.28L1168 1576.2L1170 1576.2L1170 1575.58L1171 1575.72L1171 1576.2L1178 1576.2L1178 1573.74L1179 1573.83L1179 1576.2L1180 1576.2L1180 1575.57L1181 1575.68L1181 1576.2L1182 1576.2L1182 1575.59L1184 1575.72L1184 1576.2L1184 1576.2L1184 1575.48L1186 1575.84L1186 1576.2L1186 1576.2L1186 1575.02L1189 1575.23L1189 1576.2L1191 1576.2L1191 1575.45L1194 1575.56L1194 1576.2L1194 1576.2L1194 1575.6L1196 1575.7L1196 1576.2L1197 1576.2L1197 1574.29L1200 1575.03L1200 1576.2L1200 1576.2L1200 1575.31L1202 1575.45L1202 1576.2L1202 1576.2L1202 1573.66L1204 1574.29L1204 1576.2L1204 1576.2L1204 1572.61L1205 1572.93L1205 1576.2L1205 1576.2L1205 1575.48L1207 1575.74L1207 1576.2L1209 1576.2L1209 1575.48L1211 1575.6L1211 1576.2L1212 1576.2L1212 1575.19L1213 1575.2L1213 1576.2L1213 1576.2L1213 1575.6L1214 1575.78L1214 1576.2L1219 1576.2L1219 1575.52L1222 1575.61L1222 1576.2L1222 1576.2L1222 1574.3L1223 1574.89L1223 1576.2L1223 1576.2L1223 1575.54L1224 1575.77L1224 1576.2L1224 1576.2L1224 1572.7L1225 1572.77L1225 1576.2L1225 1576.2L1225 1575.27L1228 1575.35L1228 1576.2L1229 1576.2L1229 1574.98L1230 1575.03L1230 1576.2L1230 1576.2L1230 1575.25L1233 1575.71L1233 1576.2L1233 1576.2L1233 1573.58L1235 1574.84L1235 1576.2L1235 1576.2L1235 1575.59L1238 1575.82L1238 1576.2L1240 1576.2L1240 1575.42L1243 1575.57L1243 1576.2L1243 1576.2L1243 1574.06L1244 1574.84L1244 1576.2L1244 1576.2L1244 1573.87L1247 1574.3L1247 1576.2L1248 1576.2L1248 1575.47L1250 1575.48L1250 1576.2L1251 1576.2L1251 1575.45L1253 1575.64L1253 1576.2L1254 1576.2L1254 1573.63L1256 1573.86L1256 1576.2L1258 1576.2L1258 1575.34L1259 1575.43L1259 1576.2L1259 1576.2L1259 1575.51L1261 1575.77L1261 1576.2L1261 1576.2L1261 1575.6L1263 1575.8L1263 1576.2L1266 1576.2L1266 1575.59L1267 1575.74L1267 1576.2L1269 1576.2L1269 1575.13L1271 1575.31L1271 1576.2L1274 1576.2L1274 1573.41L1275 1574.02L1275 1576.2L1275 1576.2L1275 1573.96L1276 1574.8L1276 1576.2L1276 1576.2L1276 1575.55L1279 1575.69L1279 1576.2L1279 1576.2L1279 1575.18L1282 1575.43L1282 1576.2L1282 1576.2L1282 1573.6L1284 1573.61L1284 1576.2L1284 1576.2L1284 1574.98L1287 1575.08L1287 1576.2L1288 1576.2L1288 1575.38L1289 1575.71L1289 1576.2L1292 1576.2L1292 1573.27L1294 1574.35L1294 1576.2L1296 1576.2L1296 1574.57L1298 1575.21L1298 1576.2L1298 1576.2L1298 1575.56L1299 1575.8L1299 1576.2L1301 1576.2L1301 1575.6L1302 1575.7L1302 1576.2L1302 1576.2L1302 1575.35L1303 1575.44L1303 1576.2L1304 1576.2L1304 1575.58L1305 1575.72L1305 1576.2L1306 1576.2L1306 1575.54L1308 1575.73L1308 1576.2L1308 1576.2L1308 1575.36L1311 1575.65L1311 1576.2L1312 1576.2L1312 1575.13L1315 1575.14L1315 1576.2L1315 1576.2L1315 1575.51L1317 1575.78L1317 1576.2L1317 1576.2L1317 1573.05L1319 1573.33L1319 1576.2L1319 1576.2L1319 1573.17L1321 1574.44L1321 1576.2L1321 1576.2L1321 1574.74L1323 1574.8L1323 1576.2L1323 1576.2L1323 1574.47L1324 1574.9L1324 1576.2L1324 1576.2L1324 1575.4L1326 1575.43L1326 1576.2L1326 1576.2L1326 1574.93L1329 1574.95L1329 1576.2L1329 1576.2L1329 1575.57L1332 1575.57L1332 1576.2L1333 1576.2L1333 1572.9L1334 1573.06L1334 1576.2L1336 1576.2L1336 1573.72L1337 1574.46L1337 1576.2L1339 1576.2L1339 1575.49L1340 1575.66L1340 1576.2L1340 1576.2L1340 1575.57L1341 1575.66L1341 1576.2L1342 1576.2L1342 1574.7L1344 1575.42L1344 1576.2L1345 1576.2L1345 1574.56L1347 1574.87L1347 1576.2L1347 1576.2L1347 1575.13L1349 1575.43L1349 1576.2L1352 1576.2L1352 1574.49L1354 1575.14L1354 1576.2L1357 1576.2L1357 1574.98L1358 1575.51L1358 1576.2L1359 1576.2L1359 1575.07L1361 1575.61L1361 1576.2L1362 1576.2L1362 1573.98L1364 1574.52L1364 1576.2L1364 1576.2L1364 1574.89L1365 1574.92L1365 1576.2L1365 1576.2L1365 1573.32L1368 1573.71L1368 1576.2L1369 1576.2L1369 1572.53L1371 1572.61L1371 1576.2L1372 1576.2L1372 1573.7L1375 1574.87L1375 1576.2L1375 1576.2L1375 1573.87L1376 1573.99L1376 1576.2L1376 1576.2L1376 1573.56L1377 1574.21L1377 1576.2L1378 1576.2L1378 1575.43L1380 1575.69L1380 1576.2L1380 1576.2L1380 1575.52L1381 1575.55L1381 1576.2L1383 1576.2L1383 1573.72L1384 1574.3L1384 1576.2L1385 1576.2L1385 1573.23L1387 1573.85L1387 1576.2L1388 1576.2L1388 1572.45L1390 1573.59L1390 1576.2L1391 1576.2L1391 1572.47L1393 1573.66L1393 1576.2L1393 1576.2Z" fill="#2B2BFF"/>
<rect x="1266.95" y="1527.2" width="1.5" height="49" fill="#2B2BFF"/>
<rect x="1263.8" y="1553.2" width="1.4" height="23" fill="#2B2BFF"/>
<rect x="1262.95" y="1563.2" width="6.5" height="13" fill="#2B2BFF"/>
<rect x="1298.1" y="1566.2" width="1.2" height="10" fill="#2B2BFF"/>
<rect x="1298.25" y="1571.2" width="2.5" height="5" fill="#2B2BFF"/>
<rect x="1007.31" y="1570.2" width="3" height="6" fill="#2B2BFF"/>
<rect x="1136.4" y="1570.2" width="2" height="6" fill="#2B2BFF"/>
<rect x="1078.45" y="1571.2" width="1" height="5" fill="#2B2BFF"/>
<rect x="1184.33" y="1571.2" width="3" height="5" fill="#2B2BFF"/>
<rect x="1209.38" y="1571.2" width="3" height="5" fill="#2B2BFF"/>
<rect x="993.95" y="1572.2" width="3" height="4" fill="#2B2BFF"/>
<rect x="1215.56" y="1572.2" width="4" height="4" fill="#2B2BFF"/>
<line x1="803" y1="1576.2" x2="1393" y2="1576.2" stroke="#2B2BFF" stroke-width="1"/>
<line x1="913.62" y1="1586.2" x2="1267.66" y2="1586.2" stroke="#2B2BFF" stroke-width="0.9"/>
<rect x="913.62" y="1583.7" width="5" height="5" fill="#2B2BFF"/>
<rect x="918.6" y="1583.2" width="1.4" height="6" fill="#2B2BFF"/>
<rect x="923.61" y="1583.2" width="1.4" height="6" fill="#2B2BFF"/>
<rect x="926.28" y="1583.2" width="1.4" height="6" fill="#2B2BFF"/>
<rect x="929.62" y="1583.2" width="1.4" height="6" fill="#2B2BFF"/>
<rect x="935.3" y="1583.2" width="1.4" height="6" fill="#2B2BFF"/>
<rect x="941.31" y="1583.2" width="1.4" height="6" fill="#2B2BFF"/>
<rect x="967.03" y="1583.2" width="1.4" height="6" fill="#2B2BFF"/>
<rect x="972.04" y="1583.2" width="1.4" height="6" fill="#2B2BFF"/>
<rect x="979.72" y="1583.2" width="1.4" height="6" fill="#2B2BFF"/>
<rect x="988.07" y="1583.2" width="1.4" height="6" fill="#2B2BFF"/>
<rect x="1021.47" y="1583.2" width="1.4" height="6" fill="#2B2BFF"/>
<rect x="1028.15" y="1583.2" width="1.4" height="6" fill="#2B2BFF"/>
<rect x="1031.49" y="1583.2" width="1.4" height="6" fill="#2B2BFF"/>
<rect x="1035.5" y="1583.2" width="1.4" height="6" fill="#2B2BFF"/>
<rect x="1054.87" y="1583.2" width="1.4" height="6" fill="#2B2BFF"/>
<rect x="1056.54" y="1583.2" width="1.4" height="6" fill="#2B2BFF"/>
<rect x="1090.61" y="1583.2" width="1.4" height="6" fill="#2B2BFF"/>
<rect x="1128.35" y="1583.2" width="1.4" height="6" fill="#2B2BFF"/>
<rect x="1167.76" y="1583.2" width="1.4" height="6" fill="#2B2BFF"/>
<rect x="1170.1" y="1583.2" width="1.4" height="6" fill="#2B2BFF"/>
<rect x="1253.6" y="1583.2" width="1.4" height="6" fill="#2B2BFF"/>
<rect x="1262.95" y="1583.2" width="1.4" height="6" fill="#2B2BFF"/>
<rect x="1266.29" y="1583.2" width="1.4" height="6" fill="#2B2BFF"/>
<rect x="949.06" y="1585" width="2.6" height="2.4" fill="#2B2BFF"/>
<rect x="1002.5" y="1585" width="2.6" height="2.4" fill="#2B2BFF"/>
<rect x="1014.19" y="1585" width="2.6" height="2.4" fill="#2B2BFF"/>
<rect x="1044.25" y="1585" width="2.6" height="2.4" fill="#2B2BFF"/>
<rect x="1059.28" y="1585" width="2.6" height="2.4" fill="#2B2BFF"/>
<rect x="1062.62" y="1585" width="2.6" height="2.4" fill="#2B2BFF"/>
<rect x="1065.29" y="1585" width="2.6" height="2.4" fill="#2B2BFF"/>
<rect x="1079.32" y="1585" width="2.6" height="2.4" fill="#2B2BFF"/>
<rect x="1116.06" y="1585" width="2.6" height="2.4" fill="#2B2BFF"/>
<rect x="1136.1" y="1585" width="2.6" height="2.4" fill="#2B2BFF"/>
<rect x="1152.8" y="1585" width="2.6" height="2.4" fill="#2B2BFF"/>
<rect x="1179.52" y="1585" width="2.6" height="2.4" fill="#2B2BFF"/>
<rect x="1187.87" y="1585" width="2.6" height="2.4" fill="#2B2BFF"/>
<rect x="1192.88" y="1585" width="2.6" height="2.4" fill="#2B2BFF"/>
<rect x="1202.9" y="1585" width="2.6" height="2.4" fill="#2B2BFF"/>
<rect x="1209.58" y="1585" width="2.6" height="2.4" fill="#2B2BFF"/>
<rect x="1217.93" y="1585" width="2.6" height="2.4" fill="#2B2BFF"/>
<rect x="1226.28" y="1585" width="2.6" height="2.4" fill="#2B2BFF"/>
<rect x="1231.29" y="1585" width="2.6" height="2.4" fill="#2B2BFF"/>
<rect x="1237.97" y="1585" width="2.6" height="2.4" fill="#2B2BFF"/>
<rect x="1242.98" y="1585" width="2.6" height="2.4" fill="#2B2BFF"/>
<text x="1079" y="1624.6" font-size="26" text-anchor="middle">FGFR2</text>
<text x="1326" y="1521" font-size="25">10Kb</text>
<path d="M1343.8 1534.5V1540.5H1373.2V1534.5" fill="none" stroke="#000" stroke-width="2"/>
<line x1="801.7" y1="1604.6" x2="801.7" y2="1685.3" stroke="#000" stroke-width="1.6"/>
<text x="806" y="1625.6" font-size="24.5">20</text>
<path d="M803 1684.8L803 1684.8L803 1682.46L804 1682.76L804 1684.8L804 1684.8L804 1677.42L805 1678.75L805 1684.8L806 1684.8L806 1679.94L807 1682.37L807 1684.8L807 1684.8L807 1684.04L809 1684.26L809 1684.8L809 1684.8L809 1675.96L810 1679.38L810 1684.8L810 1684.8L810 1684.2L811 1684.39L811 1684.8L811 1684.8L811 1683.11L812 1683.46L812 1684.8L812 1684.8L812 1683.88L814 1684.12L814 1684.8L814 1684.8L814 1675.11L815 1679.23L815 1684.8L815 1684.8L815 1680.29L818 1680.78L818 1684.8L818 1684.8L818 1683.64L819 1683.84L819 1684.8L819 1684.8L819 1683.16L821 1683.61L821 1684.8L822 1684.8L822 1683.71L825 1684.23L825 1684.8L825 1684.8L825 1682.75L826 1683.72L826 1684.8L826 1684.8L826 1684.2L828 1684.22L828 1684.8L828 1684.8L828 1683.9L830 1684.12L830 1684.8L830 1684.8L830 1677.53L831 1680.04L831 1684.8L831 1684.8L831 1684.19L834 1684.25L834 1684.8L834 1684.8L834 1684.2L837 1684.28L837 1684.8L837 1684.8L837 1678.76L839 1681.1L839 1684.8L839 1684.8L839 1683.78L840 1684.12L840 1684.8L840 1684.8L840 1679.48L843 1680.25L843 1684.8L843 1684.8L843 1681.34L845 1681.7L845 1684.8L845 1684.8L845 1683.63L847 1683.65L847 1684.8L847 1684.8L847 1676.27L848 1679.43L848 1684.8L848 1684.8L848 1678.72L851 1679.49L851 1684.8L851 1684.8L851 1676.27L852 1679.52L852 1684.8L853 1684.8L853 1679.52L855 1679.57L855 1684.8L855 1684.8L855 1677.05L857 1677.6L857 1684.8L857 1684.8L857 1679.03L859 1681.03L859 1684.8L859 1684.8L859 1680.5L860 1680.69L860 1684.8L860 1684.8L860 1684.2L861 1684.22L861 1684.8L861 1684.8L861 1684.06L862 1684.41L862 1684.8L862 1684.8L862 1680.35L864 1680.93L864 1684.8L864 1684.8L864 1680.91L865 1681.26L865 1684.8L865 1684.8L865 1676.05L866 1676.63L866 1684.8L868 1684.8L868 1683.88L869 1684.32L869 1684.8L869 1684.8L869 1677.56L871 1678.19L871 1684.8L871 1684.8L871 1683.52L872 1684.1L872 1684.8L872 1684.8L872 1683.88L873 1684.14L873 1684.8L873 1684.8L873 1683.67L874 1683.83L874 1684.8L874 1684.8L874 1683.34L877 1683.7L877 1684.8L877 1684.8L877 1680.55L878 1681.8L878 1684.8L878 1684.8L878 1678.24L879 1679.21L879 1684.8L879 1684.8L879 1683.84L882 1684.27L882 1684.8L882 1684.8L882 1683.99L883 1684.31L883 1684.8L883 1684.8L883 1674.2L884 1676.9L884 1684.8L884 1684.8L884 1677.83L885 1679.59L885 1684.8L885 1684.8L885 1677.2L886 1677.41L886 1684.8L886 1684.8L886 1683.84L888 1684.08L888 1684.8L888 1684.8L888 1680.31L889 1680.79L889 1684.8L889 1684.8L889 1678L891 1680.19L891 1684.8L891 1684.8L891 1682.84L894 1683.74L894 1684.8L894 1684.8L894 1684.2L895 1684.42L895 1684.8L896 1684.8L896 1682.96L899 1683.66L899 1684.8L899 1684.8L899 1681.59L901 1681.98L901 1684.8L901 1684.8L901 1683.17L902 1683.86L902 1684.8L902 1684.8L902 1679.96L904 1681.97L904 1684.8L904 1684.8L904 1678.23L906 1681.1L906 1684.8L906 1684.8L906 1676.17L907 1679.66L907 1684.8L907 1684.8L907 1679.36L910 1681.66L910 1684.8L910 1684.8L910 1683.71L911 1683.97L911 1684.8L911 1684.8L911 1683.3L912 1683.31L912 1684.8L912 1684.8L912 1684.13L915 1684.43L915 1684.8L915 1684.8L915 1674.07L917 1675.5L917 1684.8L917 1684.8L917 1683.91L919 1684.31L919 1684.8L919 1684.8L919 1682.89L920 1683.46L920 1684.8L920 1684.8L920 1679.51L922 1680.48L922 1684.8L922 1684.8L922 1684.06L924 1684.28L924 1684.8L924 1684.8L924 1675.71L926 1677.65L926 1684.8L926 1684.8L926 1682.63L927 1682.93L927 1684.8L927 1684.8L927 1678.22L929 1678.71L929 1684.8L929 1684.8L929 1680.25L931 1681.81L931 1684.8L931 1684.8L931 1684.14L933 1684.21L933 1684.8L933 1684.8L933 1680.41L934 1681.67L934 1684.8L934 1684.8L934 1680.51L936 1681.21L936 1684.8L937 1684.8L937 1680.07L939 1681.51L939 1684.8L939 1684.8L939 1674.28L940 1676.68L940 1684.8L940 1684.8L940 1678.09L943 1679.7L943 1684.8L943 1684.8L943 1681.1L945 1681.62L945 1684.8L945 1684.8L945 1680.28L948 1681.36L948 1684.8L948 1684.8L948 1674.86L949 1676.43L949 1684.8L949 1684.8L949 1678.41L950 1678.46L950 1684.8L950 1684.8L950 1684.18L951 1684.37L951 1684.8L951 1684.8L951 1682.65L953 1682.98L953 1684.8L953 1684.8L953 1683.63L954 1683.78L954 1684.8L955 1684.8L955 1683.83L958 1684.12L958 1684.8L958 1684.8L958 1684.08L960 1684.15L960 1684.8L960 1684.8L960 1682.21L962 1683.21L962 1684.8L963 1684.8L963 1680.28L966 1680.7L966 1684.8L966 1684.8L966 1683.49L968 1684.06L968 1684.8L968 1684.8L968 1683.13L971 1683.74L971 1684.8L971 1684.8L971 1683.69L973 1684.14L973 1684.8L973 1684.8L973 1679.08L974 1681.24L974 1684.8L974 1684.8L974 1682.12L976 1682.6L976 1684.8L976 1684.8L976 1683.07L979 1683.2L979 1684.8L979 1684.8L979 1677.27L982 1678.08L982 1684.8L982 1684.8L982 1677.21L984 1680.95L984 1684.8L984 1684.8L984 1674.78L986 1678.54L986 1684.8L986 1684.8L986 1684.06L987 1684.14L987 1684.8L987 1684.8L987 1684.03L990 1684.11L990 1684.8L990 1684.8L990 1676.05L992 1677.01L992 1684.8L992 1684.8L992 1676L994 1676.71L994 1684.8L994 1684.8L994 1679.52L996 1680.2L996 1684.8L996 1684.8L996 1676.22L998 1679.38L998 1684.8L998 1684.8L998 1684.06L1000 1684.41L1000 1684.8L1000 1684.8L1000 1684.05L1002 1684.24L1002 1684.8L1002 1684.8L1002 1676.61L1003 1677.26L1003 1684.8L1003 1684.8L1003 1681.24L1005 1681.52L1005 1684.8L1005 1684.8L1005 1682.65L1008 1683.65L1008 1684.8L1008 1684.8L1008 1680.32L1009 1681.19L1009 1684.8L1009 1684.8L1009 1675.22L1010 1675.31L1010 1684.8L1010 1684.8L1010 1682.07L1013 1683.39L1013 1684.8L1013 1684.8L1013 1680.46L1014 1680.76L1014 1684.8L1014 1684.8L1014 1682.16L1016 1682.47L1016 1684.8L1016 1684.8L1016 1682.52L1018 1683.03L1018 1684.8L1018 1684.8L1018 1683.5L1021 1683.88L1021 1684.8L1021 1684.8L1021 1683.6L1023 1683.62L1023 1684.8L1023 1684.8L1023 1677.91L1024 1680.27L1024 1684.8L1024 1684.8L1024 1680.95L1026 1681.37L1026 1684.8L1026 1684.8L1026 1679.06L1029 1680.37L1029 1684.8L1029 1684.8L1029 1683.46L1030 1684L1030 1684.8L1031 1684.8L1031 1680.02L1033 1680.23L1033 1684.8L1033 1684.8L1033 1680.57L1035 1681.22L1035 1684.8L1035 1684.8L1035 1679.69L1036 1680.54L1036 1684.8L1036 1684.8L1036 1678.41L1037 1681.03L1037 1684.8L1037 1684.8L1037 1678.21L1040 1679.35L1040 1684.8L1040 1684.8L1040 1677.37L1042 1678.99L1042 1684.8L1042 1684.8L1042 1683.45L1044 1683.91L1044 1684.8L1044 1684.8L1044 1680.24L1047 1682.4L1047 1684.8L1047 1684.8L1047 1684.19L1048 1684.25L1048 1684.8L1048 1684.8L1048 1675.49L1050 1680.08L1050 1684.8L1050 1684.8L1050 1680.89L1053 1680.92L1053 1684.8L1053 1684.8L1053 1682.7L1054 1683.08L1054 1684.8L1054 1684.8L1054 1684.03L1055 1684.42L1055 1684.8L1055 1684.8L1055 1684.1L1058 1684.42L1058 1684.8L1058 1684.8L1058 1684.08L1059 1684.18L1059 1684.8L1059 1684.8L1059 1678.89L1060 1681.7L1060 1684.8L1060 1684.8L1060 1679.2L1063 1679.96L1063 1684.8L1063 1684.8L1063 1680.42L1065 1681.6L1065 1684.8L1066 1684.8L1066 1674.51L1068 1679.59L1068 1684.8L1068 1684.8L1068 1680.12L1071 1682.27L1071 1684.8L1071 1684.8L1071 1678.95L1072 1679.36L1072 1684.8L1072 1684.8L1072 1684.18L1073 1684.31L1073 1684.8L1073 1684.8L1073 1679.75L1074 1680.26L1074 1684.8L1074 1684.8L1074 1680.2L1076 1681.54L1076 1684.8L1076 1684.8L1076 1678.01L1079 1678.74L1079 1684.8L1079 1684.8L1079 1683.5L1080 1683.52L1080 1684.8L1080 1684.8L1080 1677.28L1081 1678.76L1081 1684.8L1082 1684.8L1082 1680.77L1083 1681.92L1083 1684.8L1083 1684.8L1083 1682.97L1085 1683.34L1085 1684.8L1085 1684.8L1085 1677.64L1086 1681.21L1086 1684.8L1086 1684.8L1086 1682.62L1088 1682.82L1088 1684.8L1088 1684.8L1088 1684.19L1091 1684.25L1091 1684.8L1091 1684.8L1091 1681.13L1092 1681.4L1092 1684.8L1092 1684.8L1092 1679.64L1095 1681.32L1095 1684.8L1095 1684.8L1095 1681.34L1097 1682.72L1097 1684.8L1097 1684.8L1097 1675.21L1098 1677.1L1098 1684.8L1098 1684.8L1098 1682.25L1099 1683.2L1099 1684.8L1099 1684.8L1099 1677.92L1101 1681.06L1101 1684.8L1101 1684.8L1101 1678.25L1102 1679.63L1102 1684.8L1102 1684.8L1102 1676.17L1104 1678.43L1104 1684.8L1104 1684.8L1104 1683.93L1105 1684.29L1105 1684.8L1105 1684.8L1105 1683.07L1107 1683.59L1107 1684.8L1107 1684.8L1107 1684.04L1108 1684.04L1108 1684.8L1108 1684.8L1108 1684.12L1110 1684.2L1110 1684.8L1110 1684.8L1110 1680.82L1111 1681.78L1111 1684.8L1111 1684.8L1111 1684.19L1114 1684.23L1114 1684.8L1114 1684.8L1114 1681.18L1115 1681.58L1115 1684.8L1115 1684.8L1115 1674.9L1117 1675.79L1117 1684.8L1118 1684.8L1118 1684.19L1119 1684.44L1119 1684.8L1119 1684.8L1119 1684.18L1121 1684.22L1121 1684.8L1121 1684.8L1121 1674.88L1124 1679.52L1124 1684.8L1124 1684.8L1124 1682.82L1125 1682.86L1125 1684.8L1125 1684.8L1125 1681.22L1127 1681.29L1127 1684.8L1127 1684.8L1127 1682.85L1129 1683.67L1129 1684.8L1131 1684.8L1131 1684.19L1132 1684.39L1132 1684.8L1134 1684.8L1134 1684.19L1136 1684.28L1136 1684.8L1136 1684.8L1136 1674.03L1137 1678.64L1137 1684.8L1137 1684.8L1137 1675.05L1139 1678.47L1139 1684.8L1139 1684.8L1139 1678.49L1140 1680.63L1140 1684.8L1140 1684.8L1140 1684.09L1142 1684.39L1142 1684.8L1142 1684.8L1142 1684.05L1144 1684.42L1144 1684.8L1144 1684.8L1144 1683.91L1145 1683.94L1145 1684.8L1145 1684.8L1145 1675.16L1148 1675.7L1148 1684.8L1148 1684.8L1148 1682.41L1149 1682.5L1149 1684.8L1149 1684.8L1149 1680.42L1151 1681.87L1151 1684.8L1151 1684.8L1151 1682.13L1153 1683.28L1153 1684.8L1153 1684.8L1153 1684.18L1155 1684.32L1155 1684.8L1155 1684.8L1155 1676.46L1156 1678.91L1156 1684.8L1156 1684.8L1156 1683.61L1159 1684L1159 1684.8L1159 1684.8L1159 1682L1160 1682.14L1160 1684.8L1160 1684.8L1160 1674.19L1161 1674.74L1161 1684.8L1161 1684.8L1161 1683.86L1163 1684.19L1163 1684.8L1163 1684.8L1163 1683.89L1164 1683.89L1164 1684.8L1166 1684.8L1166 1683.51L1169 1684.12L1169 1684.8L1169 1684.8L1169 1683.49L1172 1684.14L1172 1684.8L1172 1684.8L1172 1683.22L1173 1684.01L1173 1684.8L1173 1684.8L1173 1681.64L1174 1682.53L1174 1684.8L1175 1684.8L1175 1681.14L1176 1682.64L1176 1684.8L1176 1684.8L1176 1679.23L1177 1681.8L1177 1684.8L1177 1684.8L1177 1680.68L1179 1682.18L1179 1684.8L1179 1684.8L1179 1680.63L1181 1681.02L1181 1684.8L1181 1684.8L1181 1683.89L1182 1684.01L1182 1684.8L1182 1684.8L1182 1679.08L1183 1679.62L1183 1684.8L1183 1684.8L1183 1677.01L1186 1678.98L1186 1684.8L1186 1684.8L1186 1675.66L1188 1676.25L1188 1684.8L1188 1684.8L1188 1683.94L1191 1684.21L1191 1684.8L1191 1684.8L1191 1683.01L1193 1683.9L1193 1684.8L1193 1684.8L1193 1682.42L1195 1683.47L1195 1684.8L1195 1684.8L1195 1677.48L1198 1679.96L1198 1684.8L1198 1684.8L1198 1682.94L1200 1683.81L1200 1684.8L1200 1684.8L1200 1674.73L1202 1677.18L1202 1684.8L1202 1684.8L1202 1681.52L1203 1681.58L1203 1684.8L1203 1684.8L1203 1683.95L1204 1684.27L1204 1684.8L1204 1684.8L1204 1684.2L1205 1684.29L1205 1684.8L1205 1684.8L1205 1684.2L1207 1684.33L1207 1684.8L1207 1684.8L1207 1679.37L1208 1679.72L1208 1684.8L1208 1684.8L1208 1684.19L1209 1684.34L1209 1684.8L1209 1684.8L1209 1683.56L1210 1683.93L1210 1684.8L1210 1684.8L1210 1680.89L1213 1682.56L1213 1684.8L1213 1684.8L1213 1678.68L1214 1679.21L1214 1684.8L1215 1684.8L1215 1682.64L1218 1683.15L1218 1684.8L1218 1684.8L1218 1675.01L1220 1678.25L1220 1684.8L1220 1684.8L1220 1683.25L1222 1683.27L1222 1684.8L1222 1684.8L1222 1675.61L1225 1676.31L1225 1684.8L1225 1684.8L1225 1681.74L1228 1681.84L1228 1684.8L1228 1684.8L1228 1682.63L1230 1683.32L1230 1684.8L1230 1684.8L1230 1684.17L1232 1684.33L1232 1684.8L1232 1684.8L1232 1684.06L1235 1684.14L1235 1684.8L1236 1684.8L1236 1677.61L1239 1678.02L1239 1684.8L1239 1684.8L1239 1680.25L1240 1680.98L1240 1684.8L1240 1684.8L1240 1681.47L1243 1682.1L1243 1684.8L1243 1684.8L1243 1681.71L1245 1681.78L1245 1684.8L1245 1684.8L1245 1683.43L1247 1684.03L1247 1684.8L1247 1684.8L1247 1674.69L1249 1678.39L1249 1684.8L1249 1684.8L1249 1681.56L1250 1682.98L1250 1684.8L1250 1684.8L1250 1683.49L1252 1683.96L1252 1684.8L1252 1684.8L1252 1684.15L1254 1684.2L1254 1684.8L1254 1684.8L1254 1681.15L1256 1682.61L1256 1684.8L1256 1684.8L1256 1682.29L1258 1682.78L1258 1684.8L1258 1684.8L1258 1683.4L1259 1683.94L1259 1684.8L1259 1684.8L1259 1682.93L1261 1683.85L1261 1684.8L1261 1684.8L1261 1676.63L1262 1678.44L1262 1684.8L1262 1684.8L1262 1683.54L1265 1683.98L1265 1684.8L1265 1684.8L1265 1684.02L1266 1684.07L1266 1684.8L1266 1684.8L1266 1684.18L1267 1684.35L1267 1684.8L1267 1684.8L1267 1684.12L1268 1684.13L1268 1684.8L1268 1684.8L1268 1684.03L1269 1684.28L1269 1684.8L1269 1684.8L1269 1680.58L1272 1680.96L1272 1684.8L1272 1684.8L1272 1678.81L1274 1679.53L1274 1684.8L1274 1684.8L1274 1678.04L1276 1678.32L1276 1684.8L1276 1684.8L1276 1676.45L1277 1677.43L1277 1684.8L1277 1684.8L1277 1681.94L1280 1682.55L1280 1684.8L1280 1684.8L1280 1678.06L1283 1679.38L1283 1684.8L1283 1684.8L1283 1682.37L1285 1682.7L1285 1684.8L1285 1684.8L1285 1682.87L1287 1683.47L1287 1684.8L1287 1684.8L1287 1678L1290 1679.7L1290 1684.8L1290 1684.8L1290 1683.95L1291 1684.31L1291 1684.8L1291 1684.8L1291 1681.01L1292 1681.16L1292 1684.8L1292 1684.8L1292 1676.98L1295 1677.14L1295 1684.8L1295 1684.8L1295 1682.59L1298 1683.68L1298 1684.8L1298 1684.8L1298 1681.21L1300 1681.35L1300 1684.8L1300 1684.8L1300 1681.51L1303 1682.3L1303 1684.8L1303 1684.8L1303 1679.63L1304 1681.29L1304 1684.8L1304 1684.8L1304 1683.15L1307 1683.42L1307 1684.8L1307 1684.8L1307 1684.14L1308 1684.33L1308 1684.8L1308 1684.8L1308 1681.1L1311 1681.17L1311 1684.8L1311 1684.8L1311 1682.47L1313 1682.48L1313 1684.8L1313 1684.8L1313 1681.6L1316 1682.93L1316 1684.8L1316 1684.8L1316 1674.19L1319 1676.78L1319 1684.8L1319 1684.8L1319 1675.98L1321 1676.77L1321 1684.8L1322 1684.8L1322 1682.64L1323 1683.4L1323 1684.8L1323 1684.8L1323 1681.87L1324 1683.07L1324 1684.8L1324 1684.8L1324 1680.75L1325 1680.76L1325 1684.8L1325 1684.8L1325 1684.19L1327 1684.25L1327 1684.8L1327 1684.8L1327 1679.55L1328 1681.37L1328 1684.8L1328 1684.8L1328 1680.96L1330 1682.5L1330 1684.8L1330 1684.8L1330 1681.34L1331 1681.96L1331 1684.8L1331 1684.8L1331 1673.77L1333 1677.02L1333 1684.8L1333 1684.8L1333 1684.02L1335 1684.37L1335 1684.8L1335 1684.8L1335 1683.99L1337 1684.06L1337 1684.8L1337 1684.8L1337 1677.66L1338 1681.18L1338 1684.8L1338 1684.8L1338 1683.33L1340 1683.8L1340 1684.8L1340 1684.8L1340 1683.63L1341 1683.68L1341 1684.8L1341 1684.8L1341 1683.16L1343 1683.67L1343 1684.8L1343 1684.8L1343 1676.06L1345 1676.24L1345 1684.8L1345 1684.8L1345 1680.53L1346 1682.57L1346 1684.8L1347 1684.8L1347 1683.37L1350 1683.51L1350 1684.8L1350 1684.8L1350 1680.76L1353 1681.78L1353 1684.8L1354 1684.8L1354 1682.88L1356 1683.63L1356 1684.8L1356 1684.8L1356 1676.37L1358 1677.24L1358 1684.8L1358 1684.8L1358 1683.98L1359 1684.31L1359 1684.8L1360 1684.8L1360 1681.25L1361 1682.08L1361 1684.8L1361 1684.8L1361 1682.78L1362 1683.66L1362 1684.8L1362 1684.8L1362 1683.15L1363 1683.82L1363 1684.8L1363 1684.8L1363 1683.76L1364 1683.93L1364 1684.8L1364 1684.8L1364 1684.02L1366 1684.38L1366 1684.8L1366 1684.8L1366 1677.14L1367 1679.27L1367 1684.8L1367 1684.8L1367 1677.69L1368 1679.99L1368 1684.8L1368 1684.8L1368 1682.97L1371 1683.7L1371 1684.8L1372 1684.8L1372 1683.8L1374 1684.23L1374 1684.8L1374 1684.8L1374 1683.65L1377 1683.89L1377 1684.8L1377 1684.8L1377 1683.72L1379 1684.14L1379 1684.8L1379 1684.8L1379 1684.1L1381 1684.26L1381 1684.8L1381 1684.8L1381 1678.26L1382 1679.38L1382 1684.8L1382 1684.8L1382 1683.4L1383 1684.04L1383 1684.8L1383 1684.8L1383 1676.84L1384 1678.18L1384 1684.8L1384 1684.8L1384 1681.24L1385 1682.13L1385 1684.8L1385 1684.8L1385 1684.17L1386 1684.42L1386 1684.8L1386 1684.8L1386 1679.15L1387 1680.84L1387 1684.8L1388 1684.8L1388 1676.22L1391 1679.94L1391 1684.8L1390.6 1684.8Z" fill="#2B2BFF"/>
<rect x="1288.7" y="1612.3" width="1.4" height="72.5" fill="#2B2BFF"/>
<rect x="1287.8" y="1654.8" width="2.4" height="30" fill="#2B2BFF"/>
<rect x="1286" y="1670.8" width="5" height="14" fill="#2B2BFF"/>
<rect x="1284" y="1677.8" width="9" height="7" fill="#2B2BFF"/>
<rect x="913.1" y="1664.8" width="1" height="20" fill="#2B2BFF"/>
<rect x="1158.5" y="1664.8" width="1" height="20" fill="#2B2BFF"/>
<rect x="1317.2" y="1662.3" width="1.2" height="22.5" fill="#2B2BFF"/>
<rect x="1318.75" y="1668.8" width="1.5" height="16" fill="#2B2BFF"/>
<rect x="848.4" y="1668.3" width="1.2" height="16.5" fill="#2B2BFF"/>
<rect x="834.25" y="1672.8" width="1.5" height="12" fill="#2B2BFF"/>
<rect x="873" y="1672.8" width="1" height="12" fill="#2B2BFF"/>
<rect x="922.25" y="1672.8" width="1.5" height="12" fill="#2B2BFF"/>
<rect x="1086.55" y="1672.8" width="1.5" height="12" fill="#2B2BFF"/>
<rect x="1119.95" y="1670.8" width="1.5" height="14" fill="#2B2BFF"/>
<rect x="1136.65" y="1669.8" width="1.5" height="15" fill="#2B2BFF"/>
<rect x="1235.18" y="1670.8" width="1.5" height="14" fill="#2B2BFF"/>
<rect x="1213.22" y="1672.8" width="2" height="12" fill="#2B2BFF"/>
<rect x="1352.08" y="1671.8" width="1.5" height="13" fill="#2B2BFF"/>
<rect x="1388.15" y="1669.8" width="1.5" height="15" fill="#2B2BFF"/>
<rect x="1250.46" y="1674.8" width="1" height="10" fill="#2B2BFF"/>
<rect x="864.19" y="1675.8" width="2" height="9" fill="#2B2BFF"/>
<rect x="930.99" y="1674.8" width="2" height="10" fill="#2B2BFF"/>
<rect x="989.69" y="1674.8" width="1.5" height="10" fill="#2B2BFF"/>
<rect x="1009.73" y="1674.8" width="1.5" height="10" fill="#2B2BFF"/>
<rect x="1059.08" y="1675.8" width="3" height="9" fill="#2B2BFF"/>
<rect x="1173.81" y="1675.8" width="4" height="9" fill="#2B2BFF"/>
<rect x="1186" y="1674.8" width="3" height="10" fill="#2B2BFF"/>
<rect x="1322.44" y="1676.8" width="4" height="8" fill="#2B2BFF"/>
<rect x="1370.2" y="1675.8" width="2" height="9" fill="#2B2BFF"/>
<line x1="803" y1="1684.8" x2="1390.6" y2="1684.8" stroke="#2B2BFF" stroke-width="1"/>
<line x1="801.7" y1="1684.8" x2="1390.6" y2="1684.8" stroke="#2B2BFF" stroke-width="1.4"/>
<line x1="886.9" y1="1700.8" x2="1238.6" y2="1700.8" stroke="#2B2BFF" stroke-width="0.9"/>
<rect x="886.9" y="1695.8" width="12.69" height="10" fill="#2B2BFF"/>
<rect x="914.39" y="1694.8" width="1.8" height="12" fill="#2B2BFF"/>
<rect x="959.48" y="1694.3" width="1.8" height="13" fill="#2B2BFF"/>
<rect x="1058.68" y="1696.8" width="1.8" height="8" fill="#2B2BFF"/>
<rect x="1190.61" y="1696.8" width="1.8" height="8" fill="#2B2BFF"/>
<rect x="1195.95" y="1696.8" width="1.8" height="8" fill="#2B2BFF"/>
<rect x="1216.66" y="1697.3" width="1.8" height="7" fill="#2B2BFF"/>
<rect x="1237.37" y="1696.8" width="1.8" height="8" fill="#2B2BFF"/>
<path d="M912.08 1699L908.88 1700.8L912.08 1702.6Z" fill="#2B2BFF"/>
<path d="M930.45 1699L927.25 1700.8L930.45 1702.6Z" fill="#2B2BFF"/>
<path d="M937.8 1699L934.6 1700.8L937.8 1702.6Z" fill="#2B2BFF"/>
<path d="M955.5 1699L952.3 1700.8L955.5 1702.6Z" fill="#2B2BFF"/>
<path d="M975.54 1699L972.34 1700.8L975.54 1702.6Z" fill="#2B2BFF"/>
<path d="M1000.59 1699L997.39 1700.8L1000.59 1702.6Z" fill="#2B2BFF"/>
<path d="M1025.64 1699L1022.44 1700.8L1025.64 1702.6Z" fill="#2B2BFF"/>
<path d="M1050.69 1699L1047.49 1700.8L1050.69 1702.6Z" fill="#2B2BFF"/>
<path d="M1075.74 1699L1072.54 1700.8L1075.74 1702.6Z" fill="#2B2BFF"/>
<path d="M1100.79 1699L1097.59 1700.8L1100.79 1702.6Z" fill="#2B2BFF"/>
<path d="M1126.51 1699L1123.31 1700.8L1126.51 1702.6Z" fill="#2B2BFF"/>
<path d="M1151.89 1699L1148.69 1700.8L1151.89 1702.6Z" fill="#2B2BFF"/>
<path d="M1176.61 1699L1173.41 1700.8L1176.61 1702.6Z" fill="#2B2BFF"/>
<path d="M1202.66 1699L1199.46 1700.8L1202.66 1702.6Z" fill="#2B2BFF"/>
<path d="M1214.35 1699L1211.15 1700.8L1214.35 1702.6Z" fill="#2B2BFF"/>
<path d="M1227.71 1699L1224.51 1700.8L1227.71 1702.6Z" fill="#2B2BFF"/>
<path d="M1234.39 1699L1231.19 1700.8L1234.39 1702.6Z" fill="#2B2BFF"/>
<text x="1077.3" y="1735.9" font-size="26" text-anchor="middle">FGF1</text>
<text x="1332.8" y="1605.6" font-size="25">10Kb</text>
<path d="M1343.8 1615.6V1624.6H1377.2V1615.6" fill="none" stroke="#000" stroke-width="2"/>
</g>
<g id="panelH">
<text x="1364.5" y="1353" font-size="52.5" font-weight="bold">H</text>
<line x1="1516.8" y1="1403.5" x2="1516.8" y2="1708.1" stroke="#000" stroke-width="3.4"/>
<line x1="1507.4" y1="1706.4" x2="1971.6" y2="1706.4" stroke="#000" stroke-width="3.4"/>
<line x1="1507.4" y1="1405.2" x2="1516.8" y2="1405.2" stroke="#000" stroke-width="3.4"/>
<text x="1503.6" y="1413.5" font-size="24" text-anchor="end">8</text>
<line x1="1507.4" y1="1480.6" x2="1516.8" y2="1480.6" stroke="#000" stroke-width="3.4"/>
<text x="1503.6" y="1488.9" font-size="24" text-anchor="end">6</text>
<line x1="1507.4" y1="1555.9" x2="1516.8" y2="1555.9" stroke="#000" stroke-width="3.4"/>
<text x="1503.6" y="1564.2" font-size="24" text-anchor="end">4</text>
<line x1="1507.4" y1="1631" x2="1516.8" y2="1631" stroke="#000" stroke-width="3.4"/>
<text x="1503.6" y="1639.3" font-size="24" text-anchor="end">2</text>
<line x1="1507.4" y1="1706.4" x2="1516.8" y2="1706.4" stroke="#000" stroke-width="3.4"/>
<text x="1503.6" y="1714.7" font-size="24" text-anchor="end">0</text>
<line x1="1530.7" y1="1661.4" x2="1530.7" y2="1669.2" stroke="#000" stroke-width="2.8"/>
<line x1="1527.4" y1="1661.4" x2="1534" y2="1661.4" stroke="#000" stroke-width="2.8"/>
<rect x="1525.3" y="1669.7" width="10.8" height="36.7" fill="#000" stroke="#000" stroke-width="3"/>
<line x1="1551.2" y1="1520.7" x2="1551.2" y2="1540.7" stroke="#000" stroke-width="2.8"/>
<line x1="1547.9" y1="1520.7" x2="1554.5" y2="1520.7" stroke="#000" stroke-width="2.8"/>
<rect x="1545.9" y="1541.2" width="10.6" height="165.2" fill="#F2777F" stroke="#000" stroke-width="3"/>
<line x1="1572.3" y1="1462.6" x2="1572.3" y2="1495.8" stroke="#000" stroke-width="2.8"/>
<line x1="1569" y1="1462.6" x2="1575.6" y2="1462.6" stroke="#000" stroke-width="2.8"/>
<rect x="1566.9" y="1496.3" width="10.8" height="210.1" fill="#BCB87A" stroke="#000" stroke-width="3"/>
<line x1="1600.05" y1="1663.5" x2="1600.05" y2="1669.2" stroke="#000" stroke-width="2.8"/>
<line x1="1596.75" y1="1663.5" x2="1603.35" y2="1663.5" stroke="#000" stroke-width="2.8"/>
<rect x="1594.6" y="1669.7" width="10.9" height="36.7" fill="#000" stroke="#000" stroke-width="3"/>
<line x1="1621.2" y1="1651.2" x2="1621.2" y2="1659.6" stroke="#000" stroke-width="2.8"/>
<line x1="1617.9" y1="1651.2" x2="1624.5" y2="1651.2" stroke="#000" stroke-width="2.8"/>
<rect x="1615.6" y="1660.1" width="11.2" height="46.3" fill="#F2777F" stroke="#000" stroke-width="3"/>
<line x1="1641.95" y1="1657.7" x2="1641.95" y2="1667" stroke="#000" stroke-width="2.8"/>
<line x1="1638.65" y1="1657.7" x2="1645.25" y2="1657.7" stroke="#000" stroke-width="2.8"/>
<rect x="1636.5" y="1667.5" width="10.9" height="38.9" fill="#BCB87A" stroke="#000" stroke-width="3"/>
<line x1="1670.65" y1="1663.5" x2="1670.65" y2="1669.2" stroke="#000" stroke-width="2.8"/>
<line x1="1667.35" y1="1663.5" x2="1673.95" y2="1663.5" stroke="#000" stroke-width="2.8"/>
<rect x="1665.2" y="1669.7" width="10.9" height="36.7" fill="#000" stroke="#000" stroke-width="3"/>
<line x1="1691.05" y1="1686.3" x2="1691.05" y2="1689.8" stroke="#000" stroke-width="2.8"/>
<line x1="1687.75" y1="1686.3" x2="1694.35" y2="1686.3" stroke="#000" stroke-width="2.8"/>
<rect x="1685.6" y="1690.3" width="10.9" height="16.1" fill="#F2777F" stroke="#000" stroke-width="3"/>
<line x1="1712.15" y1="1693.1" x2="1712.15" y2="1696.2" stroke="#000" stroke-width="2.8"/>
<line x1="1708.85" y1="1693.1" x2="1715.45" y2="1693.1" stroke="#000" stroke-width="2.8"/>
<rect x="1706.6" y="1696.7" width="11.1" height="9.7" fill="#BCB87A" stroke="#000" stroke-width="3"/>
<line x1="1772.19" y1="1665" x2="1772.19" y2="1669.2" stroke="#000" stroke-width="2.8"/>
<line x1="1768.89" y1="1665" x2="1775.49" y2="1665" stroke="#000" stroke-width="2.8"/>
<rect x="1766.88" y="1669.7" width="10.61" height="36.7" fill="#000" stroke="#000" stroke-width="3"/>
<line x1="1793" y1="1555.6" x2="1793" y2="1566.9" stroke="#000" stroke-width="2.8"/>
<line x1="1789.7" y1="1555.6" x2="1796.3" y2="1555.6" stroke="#000" stroke-width="2.8"/>
<rect x="1787.7" y="1567.4" width="10.61" height="139" fill="#F2777F" stroke="#000" stroke-width="3"/>
<line x1="1813.58" y1="1530.7" x2="1813.58" y2="1548.3" stroke="#000" stroke-width="2.8"/>
<line x1="1810.28" y1="1530.7" x2="1816.88" y2="1530.7" stroke="#000" stroke-width="2.8"/>
<rect x="1808.28" y="1548.8" width="10.61" height="157.6" fill="#BCB87A" stroke="#000" stroke-width="3"/>
<line x1="1842.68" y1="1666" x2="1842.68" y2="1669.2" stroke="#000" stroke-width="2.8"/>
<line x1="1839.38" y1="1666" x2="1845.98" y2="1666" stroke="#000" stroke-width="2.8"/>
<rect x="1837.49" y="1669.7" width="10.38" height="36.7" fill="#000" stroke="#000" stroke-width="3"/>
<line x1="1863.04" y1="1660" x2="1863.04" y2="1668.5" stroke="#000" stroke-width="2.8"/>
<line x1="1859.74" y1="1660" x2="1866.34" y2="1660" stroke="#000" stroke-width="2.8"/>
<rect x="1857.73" y="1669" width="10.61" height="37.4" fill="#F2777F" stroke="#000" stroke-width="3"/>
<line x1="1883.74" y1="1658.5" x2="1883.74" y2="1665" stroke="#000" stroke-width="2.8"/>
<line x1="1880.44" y1="1658.5" x2="1887.04" y2="1658.5" stroke="#000" stroke-width="2.8"/>
<rect x="1878.31" y="1665.5" width="10.85" height="40.9" fill="#BCB87A" stroke="#000" stroke-width="3"/>
<line x1="1912.5" y1="1666.5" x2="1912.5" y2="1669.2" stroke="#000" stroke-width="2.8"/>
<line x1="1909.2" y1="1666.5" x2="1915.8" y2="1666.5" stroke="#000" stroke-width="2.8"/>
<rect x="1907.19" y="1669.7" width="10.61" height="36.7" fill="#000" stroke="#000" stroke-width="3"/>
<line x1="1933.08" y1="1686.5" x2="1933.08" y2="1689.8" stroke="#000" stroke-width="2.8"/>
<line x1="1929.78" y1="1686.5" x2="1936.38" y2="1686.5" stroke="#000" stroke-width="2.8"/>
<rect x="1927.77" y="1690.3" width="10.61" height="16.1" fill="#F2777F" stroke="#000" stroke-width="3"/>
<line x1="1953.99" y1="1686.5" x2="1953.99" y2="1689.8" stroke="#000" stroke-width="2.8"/>
<line x1="1950.69" y1="1686.5" x2="1957.29" y2="1686.5" stroke="#000" stroke-width="2.8"/>
<rect x="1948.68" y="1690.3" width="10.61" height="16.1" fill="#BCB87A" stroke="#000" stroke-width="3"/>
<line x1="1550.6" y1="1706.4" x2="1550.6" y2="1714.7" stroke="#000" stroke-width="3.4"/>
<line x1="1621.2" y1="1706.4" x2="1621.2" y2="1714.7" stroke="#000" stroke-width="3.4"/>
<line x1="1690.8" y1="1706.4" x2="1690.8" y2="1714.7" stroke="#000" stroke-width="3.4"/>
<line x1="1741.89" y1="1706.4" x2="1741.89" y2="1714.7" stroke="#000" stroke-width="3.4"/>
<line x1="1792.67" y1="1706.4" x2="1792.67" y2="1714.7" stroke="#000" stroke-width="3.4"/>
<line x1="1862.38" y1="1706.4" x2="1862.38" y2="1714.7" stroke="#000" stroke-width="3.4"/>
<line x1="1932.74" y1="1706.4" x2="1932.74" y2="1714.7" stroke="#000" stroke-width="3.4"/>
<text x="1635.99" y="1639.5" font-size="26" transform="rotate(-90 1635.99 1639.5)">***</text>
<text x="1656.99" y="1647.2" font-size="26" transform="rotate(-90 1656.99 1647.2)">***</text>
<text x="1706.09" y="1675.2" font-size="26" transform="rotate(-90 1706.09 1675.2)">***</text>
<text x="1727.09" y="1683.2" font-size="26" transform="rotate(-90 1727.09 1683.2)">***</text>
<text x="1875.73" y="1647.13" font-size="26" transform="rotate(-90 1875.73 1647.13)">***</text>
<text x="1895.98" y="1645.81" font-size="26" transform="rotate(-90 1895.98 1645.81)">***</text>
<text x="1945.77" y="1676.34" font-size="26" transform="rotate(-90 1945.77 1676.34)">***</text>
<text x="1964.69" y="1676.34" font-size="26" transform="rotate(-90 1964.69 1676.34)">***</text>
<rect x="1541.4" y="1407" width="32.4" height="10.8" fill="#000"/>
<text x="1581.9" y="1421" font-size="25.8">IgG</text>
<rect x="1666.1" y="1407.7" width="29.7" height="9.4" fill="#F2777F" stroke="#000" stroke-width="2.8"/>
<text x="1708.7" y="1421" font-size="25.8">RORγ</text>
<rect x="1814.2" y="1407.7" width="29.7" height="9.4" fill="#BCB87A" stroke="#000" stroke-width="2.8"/>
<text x="1857.4" y="1421" font-size="25.8">H3K27ac</text>
<text x="0" y="0" font-size="27" text-anchor="middle" transform="translate(1445.3 1544) rotate(-90) scale(0.976 1)">Relative enrichment on genes</text>
<text x="0" y="0" font-size="27" text-anchor="middle" transform="translate(1476.3 1548) rotate(-90) scale(0.976 1)">(Fold of change)</text>
<text x="1559.6" y="1729.5" font-size="25.8" text-anchor="end" transform="rotate(-61.5 1559.6 1729.5)">Veh</text>
<text x="1633.9" y="1732" font-size="25.8" text-anchor="end" transform="rotate(-61.5 1633.9 1732)">GSK805</text>
<text x="1697.8" y="1729.6" font-size="25.8" text-anchor="end" transform="rotate(-61.5 1697.8 1729.6)">XY101</text>
<text x="1801.67" y="1729.5" font-size="25.8" text-anchor="end" transform="rotate(-61.5 1801.67 1729.5)">Veh</text>
<text x="1875.08" y="1732" font-size="25.8" text-anchor="end" transform="rotate(-61.5 1875.08 1732)">GSK805</text>
<text x="1939.74" y="1729.6" font-size="25.8" text-anchor="end" transform="rotate(-61.5 1939.74 1729.6)">XY101</text>
<line x1="1511.2" y1="1830" x2="1723.6" y2="1830" stroke="#000" stroke-width="3.4"/>
<line x1="1759" y1="1830" x2="1971.6" y2="1830" stroke="#000" stroke-width="3.4"/>
<text x="1622.2" y="1865" font-size="26" text-anchor="middle">FGF1</text>
<text x="1879.3" y="1865" font-size="26" text-anchor="middle">FGFR2</text>
</g>
</svg>
</body></html>
